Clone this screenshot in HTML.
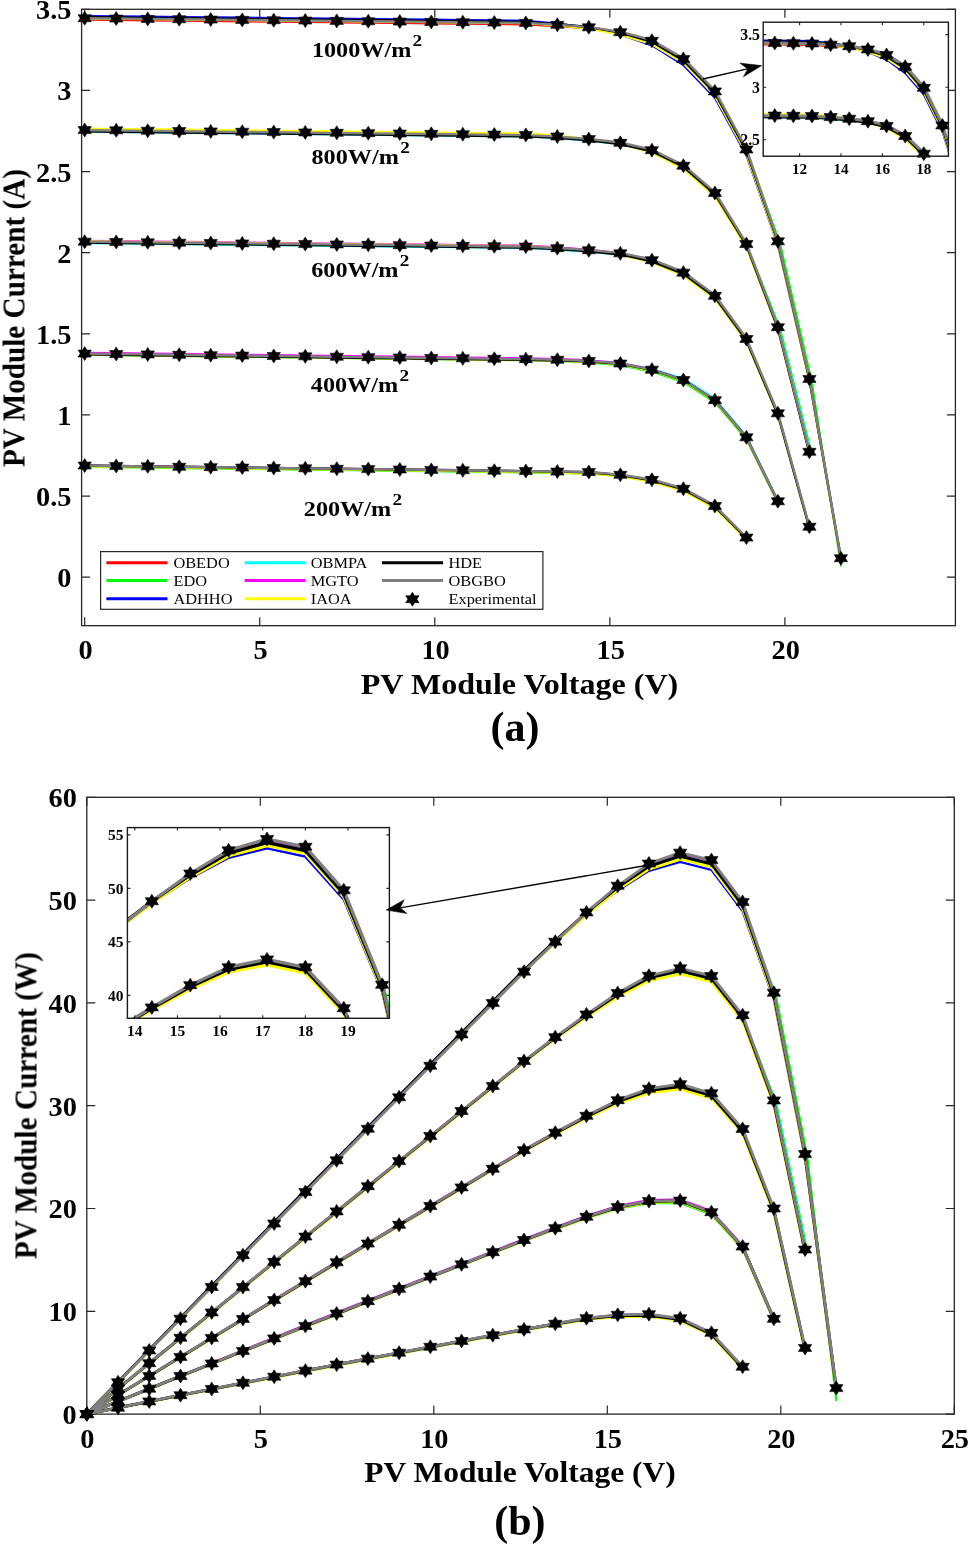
<!DOCTYPE html>
<html><head><meta charset="utf-8"><title>PV curves</title>
<style>
html,body{margin:0;padding:0;background:#fff;}
body{width:968px;height:1546px;overflow:hidden;font-family:"Liberation Serif",serif;}
svg{display:block;}
</style></head><body>
<svg width="968" height="1546" viewBox="0 0 968 1546" font-family="Liberation Serif, serif"><g opacity="0.999"><path d="M84.7,625.7v-8.5M84.7,9.3v8.5M259.75,625.7v-8.5M259.75,9.3v8.5M434.8,625.7v-8.5M434.8,9.3v8.5M609.85,625.7v-8.5M609.85,9.3v8.5M784.9,625.7v-8.5M784.9,9.3v8.5M81.6,577.2h8.5M955.4,577.2h-8.5M81.6,496.07h8.5M955.4,496.07h-8.5M81.6,414.94h8.5M955.4,414.94h-8.5M81.6,333.81h8.5M955.4,333.81h-8.5M81.6,252.68h8.5M955.4,252.68h-8.5M81.6,171.55h8.5M955.4,171.55h-8.5M81.6,90.42h8.5M955.4,90.42h-8.5M81.6,9.29h8.5M955.4,9.29h-8.5" stroke="#262626" stroke-width="1.2" fill="none"/>
<rect x="81.6" y="9.3" width="873.8" height="616.4" fill="none" stroke="#262626" stroke-width="1.3"/>
<g fill="none" stroke-linejoin="round" stroke-linecap="butt">
<clipPath id="ca"><rect x="81.6" y="9.3" width="873.8" height="616.4"/></clipPath>
<g clip-path="url(#ca)">
<path d="M84.7,18.71L116.21,19.05L147.72,19.39L179.23,19.72L210.74,20.06L242.25,20.39L273.75,20.73L305.26,21.07L336.77,21.4L368.28,21.74L399.79,22.07L431.3,22.41L462.81,22.74L494.32,23.08L525.83,23.42L557.34,25.55L588.84,28.39L620.35,33.75L651.86,42.83L683.37,61.35L714.88,93.89L747.2,151.85L780.2,243.27L811.71,380.43L840.92,566.52" stroke="#00ff00" stroke-width="1.6"/>
<path d="M84.7,130.81L116.21,131.16L147.72,131.51L179.23,131.86L210.74,132.21L242.25,132.56L273.75,132.91L305.26,133.26L336.77,133.62L368.28,133.97L399.79,134.32L431.3,134.67L462.81,135.02L494.32,135.37L525.83,135.72L557.34,137.37L588.84,140.1L620.35,144.01L651.86,151.48L683.37,167.18L714.88,194.47L747.2,245.53L780.2,328.47L811.71,452.93" stroke="#00ff00" stroke-width="1.6"/>
<path d="M84.7,242.45L116.21,242.8L147.72,243.15L179.23,243.5L210.74,243.85L242.25,244.2L273.75,244.55L305.26,244.9L336.77,245.25L368.28,245.6L399.79,245.95L431.3,246.3L462.81,246.65L494.32,247L525.83,247.35L557.34,249L588.84,251.25L620.35,254.51L651.86,261.49L683.37,274.1L714.88,297.34L746.39,340.46L777.9,414.63L809.41,527.89" stroke="#00ff00" stroke-width="1.6"/>
<path d="M84.7,355.01L116.21,355.4L147.72,355.79L179.23,356.19L210.74,356.58L242.25,356.98L273.75,357.37L305.26,357.77L336.77,358.16L368.28,358.55L399.79,358.95L431.3,359.34L462.81,359.74L494.32,360.13L525.83,360.53L557.34,361.26L588.84,362.6L620.35,365.45L651.86,371.85L683.37,382.41L714.88,402.57L746.39,439.67L777.9,503.39" stroke="#00ff00" stroke-width="1.6"/>
<path d="M84.7,467.17L116.21,467.56L147.72,467.95L179.23,468.35L210.74,468.74L242.25,469.14L273.75,469.53L305.26,469.93L336.77,470.32L368.28,470.71L399.79,471.11L431.3,471.5L462.81,471.9L494.32,472.29L525.83,472.69L557.34,473.16L588.84,473.63L620.35,476.36L651.86,481.37L683.37,490.27L714.88,507.47L746.39,539.12" stroke="#00ff00" stroke-width="1.6"/>
<path d="M84.7,20.01L116.21,20.35L147.72,20.69L179.23,21.02L210.74,21.36L242.25,21.69L273.75,22.03L305.26,22.37L336.77,22.7L368.28,23.04L399.79,23.37L431.3,23.71L462.81,24.04L494.32,24.38L525.83,24.72L557.34,26.59L588.84,28.87L620.35,33.53L651.86,41.94L683.37,59.98L714.88,92.39L746.39,150.54L777.9,242.54L809.41,380.32L840.92,559.7" stroke="#ff0000" stroke-width="1.4"/>
<path d="M84.7,130.31L116.21,130.66L147.72,131.01L179.23,131.36L210.74,131.71L242.25,132.06L273.75,132.41L305.26,132.76L336.77,133.12L368.28,133.47L399.79,133.82L431.3,134.17L462.81,134.52L494.32,134.87L525.83,135.22L557.34,136.82L588.84,139.46L620.35,143.24L651.86,150.59L683.37,166.2L714.88,193.47L746.39,244.57L777.9,327.6L809.41,452.17" stroke="#ff0000" stroke-width="1.4"/>
<path d="M84.7,241.95L116.21,242.3L147.72,242.65L179.23,243L210.74,243.35L242.25,243.7L273.75,244.05L305.26,244.4L336.77,244.75L368.28,245.1L399.79,245.45L431.3,245.8L462.81,246.15L494.32,246.5L525.83,246.85L557.34,248.46L588.84,250.6L620.35,253.74L651.86,260.6L683.37,273.13L714.88,296.34L746.39,339.49L777.9,413.76L809.41,527.14" stroke="#ff0000" stroke-width="1.4"/>
<path d="M84.7,353.61L116.21,354L147.72,354.39L179.23,354.79L210.74,355.18L242.25,355.58L273.75,355.97L305.26,356.37L336.77,356.76L368.28,357.15L399.79,357.55L431.3,357.94L462.81,358.34L494.32,358.73L525.83,359.13L557.34,359.82L588.84,361.05L620.35,363.77L651.86,370.06L683.37,380.53L714.88,400.67L746.39,437.8L777.9,501.63" stroke="#ff0000" stroke-width="1.4"/>
<path d="M84.7,465.57L116.21,465.96L147.72,466.35L179.23,466.75L210.74,467.14L242.25,467.54L273.75,467.93L305.26,468.33L336.77,468.72L368.28,469.11L399.79,469.51L431.3,469.9L462.81,470.3L494.32,470.69L525.83,471.09L557.34,471.61L588.84,472.17L620.35,475.03L651.86,480.16L683.37,489.15L714.88,506.37L746.39,537.98" stroke="#ff0000" stroke-width="1.4"/>
<path d="M84.7,18.51L116.21,18.85L147.72,19.19L179.23,19.52L210.74,19.86L242.25,20.19L273.75,20.53L305.26,20.87L336.77,21.2L368.28,21.54L399.79,21.87L431.3,22.21L462.81,22.54L494.32,22.88L525.83,23.22L557.34,25.28L588.84,27.95L620.35,33.12L651.86,42.01L683.37,60.38L714.88,92.89L746.39,150.9L777.9,242.49L809.41,379.82L840.92,559" stroke="#00ffff" stroke-width="1.6"/>
<path d="M84.7,131.91L116.21,132.26L147.72,132.61L179.23,132.96L210.74,133.31L242.25,133.66L273.75,134.01L305.26,134.36L336.77,134.72L368.28,135.07L399.79,135.42L431.3,135.77L462.81,136.12L494.32,136.47L525.83,136.82L557.34,138.37L588.84,140.91L620.35,144.57L651.86,151.8L683.37,167.32L714.88,194.57L746.95,245.7L779.5,328.84L811.01,453.52" stroke="#00ffff" stroke-width="1.6"/>
<path d="M84.7,243.35L116.21,243.7L147.72,244.05L179.23,244.4L210.74,244.75L242.25,245.1L273.75,245.45L305.26,245.8L336.77,246.15L368.28,246.5L399.79,246.85L431.3,247.2L462.81,247.55L494.32,247.9L525.83,248.25L557.34,249.85L588.84,251.98L620.35,255.08L651.86,261.92L683.37,274.43L714.88,297.64L746.39,340.8L777.9,415.09L809.41,528.49" stroke="#00ffff" stroke-width="1.6"/>
<path d="M84.7,354.41L116.21,354.8L147.72,355.19L179.23,355.59L210.74,355.98L242.25,356.38L273.75,356.77L305.26,357.17L336.77,357.56L368.28,357.95L399.79,358.35L431.3,358.74L462.81,359.14L494.32,359.53L525.83,359.92L557.34,360.34L588.84,360.97L620.35,362.95L651.86,368.52L683.37,378.47L714.88,398.47L746.39,435.8L777.9,500.25" stroke="#00ffff" stroke-width="1.6"/>
<path d="M84.7,466.17L116.21,466.56L147.72,466.95L179.23,467.35L210.74,467.74L242.25,468.14L273.75,468.53L305.26,468.93L336.77,469.32L368.28,469.71L399.79,470.11L431.3,470.5L462.81,470.9L494.32,471.29L525.83,471.69L557.34,472.19L588.84,472.71L620.35,475.52L651.86,480.6L683.37,489.56L714.88,506.77L746.39,538.4" stroke="#00ffff" stroke-width="1.6"/>
<path d="M84.7,18.21L116.21,18.55L147.72,18.89L179.23,19.22L210.74,19.56L242.25,19.89L273.75,20.23L305.26,20.57L336.77,20.9L368.28,21.24L399.79,21.57L431.3,21.91L462.81,22.24L494.32,22.58L525.83,22.92L557.34,24.91L588.84,27.45L620.35,32.44L651.86,41.16L683.37,59.42L714.88,91.89L746.39,149.95L777.9,241.69L809.41,379.17L840.92,558.42" stroke="#ff00ff" stroke-width="1.5"/>
<path d="M84.7,130.01L116.21,130.36L147.72,130.71L179.23,131.06L210.74,131.41L242.25,131.76L273.75,132.11L305.26,132.46L336.77,132.82L368.28,133.17L399.79,133.52L431.3,133.87L462.81,134.22L494.32,134.57L525.83,134.92L557.34,136.56L588.84,139.27L620.35,143.16L651.86,150.6L683.37,166.28L714.88,193.57L746.39,244.64L777.9,327.59L809.41,452.08" stroke="#ff00ff" stroke-width="1.5"/>
<path d="M84.7,240.45L116.21,240.8L147.72,241.15L179.23,241.5L210.74,241.85L242.25,242.2L273.75,242.55L305.26,242.9L336.77,243.25L368.28,243.6L399.79,243.95L431.3,244.3L462.81,244.65L494.32,245L525.83,245.35L557.34,247.1L588.84,249.57L620.35,253.11L651.86,260.35L683.37,273.15L714.88,296.44L746.39,339.48L777.9,413.42L809.41,526.44" stroke="#ff00ff" stroke-width="1.5"/>
<path d="M84.7,352.41L116.21,352.8L147.72,353.19L179.23,353.59L210.74,353.98L242.25,354.38L273.75,354.77L305.26,355.17L336.77,355.56L368.28,355.95L399.79,356.35L431.3,356.74L462.81,357.14L494.32,357.53L525.83,357.93L557.34,358.63L588.84,359.88L620.35,362.63L651.86,368.94L683.37,379.43L714.88,399.57L746.39,436.69L777.9,500.5" stroke="#ff00ff" stroke-width="1.5"/>
<path d="M84.7,465.27L116.21,465.66L147.72,466.05L179.23,466.45L210.74,466.84L242.25,467.24L273.75,467.63L305.26,468.03L336.77,468.42L368.28,468.81L399.79,469.21L431.3,469.6L462.81,470L494.32,470.39L525.83,470.79L557.34,471.3L588.84,471.84L620.35,474.68L651.86,479.78L683.37,488.75L714.88,505.97L746.39,537.59" stroke="#ff00ff" stroke-width="1.5"/>
<path d="M84.7,15.81L116.21,16.15L147.72,16.49L179.23,16.82L210.74,17.16L242.25,17.49L273.75,17.83L305.26,18.17L336.77,18.5L368.28,18.84L399.79,19.17L431.3,19.51L462.81,19.84L494.32,20.18L525.83,20.53L557.34,23.33L588.84,27.6L620.35,34.76L651.86,45.56L683.37,65.3L714.88,98.19L746.39,155.68L777.9,245.61L809.41,381.15L840.92,559.5" stroke="#0000ff" stroke-width="1.8"/>
<path d="M84.7,130.51L116.21,130.86L147.72,131.21L179.23,131.56L210.74,131.91L242.25,132.26L273.75,132.61L305.26,132.96L336.77,133.32L368.28,133.67L399.79,134.02L431.3,134.37L462.81,134.72L494.32,135.07L525.83,135.42L557.34,137.07L588.84,139.8L620.35,143.71L651.86,151.18L683.37,166.88L714.88,194.17L746.39,245.23L777.9,328.17L809.41,452.63" stroke="#0000ff" stroke-width="1.8"/>
<path d="M84.7,242.15L116.21,242.5L147.72,242.85L179.23,243.2L210.74,243.55L242.25,243.9L273.75,244.25L305.26,244.6L336.77,244.95L368.28,245.3L399.79,245.65L431.3,246L462.81,246.35L494.32,246.7L525.83,247.05L557.34,248.7L588.84,250.95L620.35,254.21L651.86,261.19L683.37,273.8L714.88,297.04L746.39,340.16L777.9,414.33L809.41,527.59" stroke="#0000ff" stroke-width="1.8"/>
<path d="M84.7,354.11L116.21,354.5L147.72,354.89L179.23,355.29L210.74,355.68L242.25,356.08L273.75,356.47L305.26,356.87L336.77,357.26L368.28,357.65L399.79,358.05L431.3,358.44L462.81,358.84L494.32,359.23L525.83,359.63L557.34,360.27L588.84,361.41L620.35,364L651.86,370.17L683.37,380.55L714.88,400.67L746.39,437.83L777.9,501.76" stroke="#0000ff" stroke-width="1.8"/>
<path d="M84.7,466.07L116.21,466.46L147.72,466.85L179.23,467.25L210.74,467.64L242.25,468.04L273.75,468.43L305.26,468.83L336.77,469.22L368.28,469.61L399.79,470.01L431.3,470.4L462.81,470.8L494.32,471.19L525.83,471.59L557.34,472.1L588.84,472.64L620.35,475.48L651.86,480.58L683.37,489.55L714.88,506.77L746.39,538.39" stroke="#0000ff" stroke-width="1.8"/>
<path d="M84.7,18.41L116.21,18.75L147.72,19.09L179.23,19.42L210.74,19.76L242.25,20.09L273.75,20.43L305.26,20.77L336.77,21.1L368.28,21.44L399.79,21.77L431.3,22.11L462.81,22.44L494.32,22.78L525.83,23.12L557.34,25.45L588.84,28.7L620.35,34.59L651.86,44.17L683.37,63.05L714.88,95.69L746.39,153.51L777.9,244.5L809.41,381.18L840.92,560.06" stroke="#ffff00" stroke-width="2.3"/>
<path d="M84.7,128.71L116.21,129.06L147.72,129.41L179.23,129.76L210.74,130.11L242.25,130.46L273.75,130.81L305.26,131.16L336.77,131.52L368.28,131.87L399.79,132.22L431.3,132.57L462.81,132.92L494.32,133.27L525.83,133.62L557.34,135.64L588.84,139.18L620.35,144.08L651.86,152.51L683.37,168.88L714.88,196.37L746.39,247.17L777.9,329.27L809.41,452.84" stroke="#ffff00" stroke-width="2.3"/>
<path d="M84.7,241.35L116.21,241.7L147.72,242.05L179.23,242.4L210.74,242.75L242.25,243.1L273.75,243.45L305.26,243.8L336.77,244.15L368.28,244.5L399.79,244.85L431.3,245.2L462.81,245.55L494.32,245.9L525.83,246.26L557.34,248.14L588.84,250.91L620.35,254.82L651.86,262.42L683.37,275.48L714.88,298.84L746.39,341.79L777.9,415.41L809.41,528.1" stroke="#ffff00" stroke-width="2.3"/>
<path d="M84.7,354.61L116.21,355L147.72,355.39L179.23,355.79L210.74,356.18L242.25,356.58L273.75,356.97L305.26,357.37L336.77,357.76L368.28,358.15L399.79,358.55L431.3,358.94L462.81,359.34L494.32,359.73L525.83,360.13L557.34,360.75L588.84,361.85L620.35,364.4L651.86,370.51L683.37,380.86L714.88,400.97L746.39,438.15L777.9,502.12" stroke="#ffff00" stroke-width="2.3"/>
<path d="M84.7,466.37L116.21,466.76L147.72,467.15L179.23,467.55L210.74,467.94L242.25,468.34L273.75,468.73L305.26,469.13L336.77,469.52L368.28,469.91L399.79,470.31L431.3,470.7L462.81,471.1L494.32,471.49L525.83,471.89L557.34,472.52L588.84,473.32L620.35,476.48L651.86,481.89L683.37,491.09L714.88,508.37L746.39,539.9" stroke="#ffff00" stroke-width="2.3"/>
<path d="M84.7,17.21L116.21,17.55L147.72,17.89L179.23,18.22L210.74,18.56L242.25,18.89L273.75,19.23L305.26,19.57L336.77,19.9L368.28,20.24L399.79,20.57L431.3,20.91L462.81,21.24L494.32,21.58L525.83,21.92L557.34,24.11L588.84,27.06L620.35,32.58L651.86,41.8L683.37,60.42L714.88,92.99L746.39,150.91L777.9,242.21L809.41,379.23L840.92,558.26" stroke="#000000" stroke-width="2.4"/>
<path d="M84.7,131.41L116.21,131.76L147.72,132.11L179.23,132.46L210.74,132.81L242.25,133.16L273.75,133.51L305.26,133.86L336.77,134.22L368.28,134.57L399.79,134.92L431.3,135.27L462.81,135.62L494.32,135.97L525.83,136.32L557.34,137.86L588.84,140.38L620.35,144.01L651.86,151.22L683.37,166.73L714.88,193.97L746.39,245.11L777.9,328.27L809.41,452.97" stroke="#000000" stroke-width="2.4"/>
<path d="M84.7,242.65L116.21,243L147.72,243.35L179.23,243.7L210.74,244.05L242.25,244.4L273.75,244.75L305.26,245.1L336.77,245.45L368.28,245.8L399.79,246.15L431.3,246.5L462.81,246.85L494.32,247.2L525.83,247.55L557.34,249.16L588.84,251.3L620.35,254.44L651.86,261.3L683.37,273.83L714.88,297.04L746.39,340.19L777.9,414.46L809.41,527.84" stroke="#000000" stroke-width="2.4"/>
<path d="M84.7,354.41L116.21,354.8L147.72,355.19L179.23,355.59L210.74,355.98L242.25,356.38L273.75,356.77L305.26,357.17L336.77,357.56L368.28,357.95L399.79,358.35L431.3,358.74L462.81,359.14L494.32,359.53L525.83,359.92L557.34,360.5L588.84,361.47L620.35,363.87L651.86,369.84L683.37,380.09L714.88,400.17L746.39,437.38L777.9,501.48" stroke="#000000" stroke-width="2.4"/>
<path d="M84.7,465.57L116.21,465.96L147.72,466.35L179.23,466.75L210.74,467.14L242.25,467.54L273.75,467.93L305.26,468.33L336.77,468.72L368.28,469.11L399.79,469.51L431.3,469.9L462.81,470.3L494.32,470.69L525.83,471.09L557.34,471.62L588.84,472.23L620.35,475.14L651.86,480.31L683.37,489.34L714.88,506.57L746.39,538.17" stroke="#000000" stroke-width="2.4"/>
<path d="M84.7,18.21L116.21,18.55L147.72,18.89L179.23,19.22L210.74,19.56L242.25,19.89L273.75,20.23L305.26,20.57L336.77,20.9L368.28,21.24L399.79,21.57L431.3,21.91L462.81,22.24L494.32,22.58L525.83,22.92L557.34,24.79L588.84,27.07L620.35,31.73L651.86,40.14L683.37,58.18L714.88,90.59L746.39,148.74L777.9,240.74L809.41,378.52L840.92,557.9" stroke="#808080" stroke-width="2.4"/>
<path d="M84.7,130.21L116.21,130.56L147.72,130.91L179.23,131.26L210.74,131.61L242.25,131.96L273.75,132.31L305.26,132.66L336.77,133.02L368.28,133.37L399.79,133.72L431.3,134.07L462.81,134.42L494.32,134.77L525.83,135.12L557.34,136.61L588.84,139L620.35,142.49L651.86,149.55L683.37,164.96L714.88,192.17L746.39,243.35L777.9,326.63L809.41,451.47" stroke="#808080" stroke-width="2.4"/>
<path d="M84.7,241.65L116.21,242L147.72,242.35L179.23,242.7L210.74,243.05L242.25,243.4L273.75,243.75L305.26,244.1L336.77,244.45L368.28,244.8L399.79,245.15L431.3,245.5L462.81,245.85L494.32,246.2L525.83,246.55L557.34,248.06L588.84,250.01L620.35,252.9L651.86,259.52L683.37,271.88L714.88,295.04L746.39,338.25L777.9,412.74L809.41,526.33" stroke="#808080" stroke-width="2.4"/>
<path d="M84.7,353.61L116.21,354L147.72,354.39L179.23,354.79L210.74,355.18L242.25,355.58L273.75,355.97L305.26,356.37L336.77,356.76L368.28,357.15L399.79,357.55L431.3,357.94L462.81,358.34L494.32,358.73L525.83,359.13L557.34,359.77L588.84,360.91L620.35,363.5L651.86,369.67L683.37,380.05L714.88,400.17L746.39,437.33L777.9,501.26" stroke="#808080" stroke-width="2.4"/>
<path d="M84.7,465.57L116.21,465.96L147.72,466.35L179.23,466.75L210.74,467.14L242.25,467.54L273.75,467.93L305.26,468.33L336.77,468.72L368.28,469.11L399.79,469.51L431.3,469.9L462.81,470.3L494.32,470.69L525.83,471.08L557.34,471.53L588.84,471.94L620.35,474.6L651.86,479.53L683.37,488.39L714.88,505.57L746.39,537.23" stroke="#808080" stroke-width="2.4"/>
</g>
</g>
<path d="M84.7,11.21L82.48,14.71L78.03,14.71L80.25,18.21L78.03,21.71L82.48,21.71L84.7,25.21L86.92,21.71L91.37,21.71L89.15,18.21L91.37,14.71L86.92,14.71ZM116.21,11.55L113.99,15.05L109.54,15.05L111.76,18.55L109.54,22.05L113.99,22.05L116.21,25.55L118.43,22.05L122.88,22.05L120.65,18.55L122.88,15.05L118.43,15.05ZM147.72,11.89L145.5,15.39L141.05,15.39L143.27,18.89L141.05,22.39L145.5,22.39L147.72,25.89L149.94,22.39L154.39,22.39L152.16,18.89L154.39,15.39L149.94,15.39ZM179.23,12.22L177,15.72L172.56,15.72L174.78,19.22L172.56,22.72L177,22.72L179.23,26.22L181.45,22.72L185.9,22.72L183.67,19.22L185.9,15.72L181.45,15.72ZM210.74,12.56L208.51,16.06L204.07,16.06L206.29,19.56L204.07,23.06L208.51,23.06L210.74,26.56L212.96,23.06L217.4,23.06L215.18,19.56L217.4,16.06L212.96,16.06ZM242.25,12.89L240.02,16.39L235.58,16.39L237.8,19.89L235.58,23.39L240.02,23.39L242.25,26.89L244.47,23.39L248.91,23.39L246.69,19.89L248.91,16.39L244.47,16.39ZM273.75,13.23L271.53,16.73L267.09,16.73L269.31,20.23L267.09,23.73L271.53,23.73L273.75,27.23L275.98,23.73L280.42,23.73L278.2,20.23L280.42,16.73L275.98,16.73ZM305.26,13.57L303.04,17.07L298.59,17.07L300.82,20.57L298.59,24.07L303.04,24.07L305.26,27.57L307.49,24.07L311.93,24.07L309.71,20.57L311.93,17.07L307.49,17.07ZM336.77,13.9L334.55,17.4L330.1,17.4L332.33,20.9L330.1,24.4L334.55,24.4L336.77,27.9L338.99,24.4L343.44,24.4L341.22,20.9L343.44,17.4L338.99,17.4ZM368.28,14.24L366.06,17.74L361.61,17.74L363.84,21.24L361.61,24.74L366.06,24.74L368.28,28.24L370.5,24.74L374.95,24.74L372.73,21.24L374.95,17.74L370.5,17.74ZM399.79,14.57L397.57,18.07L393.12,18.07L395.34,21.57L393.12,25.07L397.57,25.07L399.79,28.57L402.01,25.07L406.46,25.07L404.24,21.57L406.46,18.07L402.01,18.07ZM431.3,14.91L429.08,18.41L424.63,18.41L426.85,21.91L424.63,25.41L429.08,25.41L431.3,28.91L433.52,25.41L437.97,25.41L435.74,21.91L437.97,18.41L433.52,18.41ZM462.81,15.24L460.59,18.74L456.14,18.74L458.36,22.24L456.14,25.74L460.59,25.74L462.81,29.24L465.03,25.74L469.48,25.74L467.25,22.24L469.48,18.74L465.03,18.74ZM494.32,15.58L492.09,19.08L487.65,19.08L489.87,22.58L487.65,26.08L492.09,26.08L494.32,29.58L496.54,26.08L500.99,26.08L498.76,22.58L500.99,19.08L496.54,19.08ZM525.83,15.92L523.6,19.42L519.16,19.42L521.38,22.92L519.16,26.42L523.6,26.42L525.83,29.92L528.05,26.42L532.49,26.42L530.27,22.92L532.49,19.42L528.05,19.42ZM557.34,17.87L555.11,21.37L550.67,21.37L552.89,24.87L550.67,28.37L555.11,28.37L557.34,31.87L559.56,28.37L564,28.37L561.78,24.87L564,21.37L559.56,21.37ZM588.84,20.3L586.62,23.8L582.18,23.8L584.4,27.3L582.18,30.8L586.62,30.8L588.84,34.3L591.07,30.8L595.51,30.8L593.29,27.3L595.51,23.8L591.07,23.8ZM620.35,25.17L618.13,28.67L613.68,28.67L615.91,32.17L613.68,35.67L618.13,35.67L620.35,39.17L622.58,35.67L627.02,35.67L624.8,32.17L627.02,28.67L622.58,28.67ZM651.86,33.77L649.64,37.27L645.19,37.27L647.42,40.77L645.19,44.27L649.64,44.27L651.86,47.77L654.08,44.27L658.53,44.27L656.31,40.77L658.53,37.27L654.08,37.27ZM683.37,51.94L681.15,55.44L676.7,55.44L678.93,58.94L676.7,62.44L681.15,62.44L683.37,65.94L685.59,62.44L690.04,62.44L687.82,58.94L690.04,55.44L685.59,55.44ZM714.88,84.39L712.66,87.89L708.21,87.89L710.43,91.39L708.21,94.89L712.66,94.89L714.88,98.39L717.1,94.89L721.55,94.89L719.33,91.39L721.55,87.89L717.1,87.89ZM746.39,142.48L744.17,145.98L739.72,145.98L741.94,149.48L739.72,152.98L744.17,152.98L746.39,156.48L748.61,152.98L753.06,152.98L750.83,149.48L753.06,145.98L748.61,145.98ZM777.9,234.32L775.68,237.82L771.23,237.82L773.45,241.32L771.23,244.82L775.68,244.82L777.9,248.32L780.12,244.82L784.57,244.82L782.34,241.32L784.57,237.82L780.12,237.82ZM809.41,371.92L807.18,375.42L802.74,375.42L804.96,378.92L802.74,382.42L807.18,382.42L809.41,385.92L811.63,382.42L816.08,382.42L813.85,378.92L816.08,375.42L811.63,375.42ZM840.92,551.22L838.69,554.72L834.25,554.72L836.47,558.22L834.25,561.72L838.69,561.72L840.92,565.22L843.14,561.72L847.58,561.72L845.36,558.22L847.58,554.72L843.14,554.72ZM84.7,123.01L82.48,126.51L78.03,126.51L80.25,130.01L78.03,133.51L82.48,133.51L84.7,137.01L86.92,133.51L91.37,133.51L89.15,130.01L91.37,126.51L86.92,126.51ZM116.21,123.36L113.99,126.86L109.54,126.86L111.76,130.36L109.54,133.86L113.99,133.86L116.21,137.36L118.43,133.86L122.88,133.86L120.65,130.36L122.88,126.86L118.43,126.86ZM147.72,123.71L145.5,127.21L141.05,127.21L143.27,130.71L141.05,134.21L145.5,134.21L147.72,137.71L149.94,134.21L154.39,134.21L152.16,130.71L154.39,127.21L149.94,127.21ZM179.23,124.06L177,127.56L172.56,127.56L174.78,131.06L172.56,134.56L177,134.56L179.23,138.06L181.45,134.56L185.9,134.56L183.67,131.06L185.9,127.56L181.45,127.56ZM210.74,124.41L208.51,127.91L204.07,127.91L206.29,131.41L204.07,134.91L208.51,134.91L210.74,138.41L212.96,134.91L217.4,134.91L215.18,131.41L217.4,127.91L212.96,127.91ZM242.25,124.76L240.02,128.26L235.58,128.26L237.8,131.76L235.58,135.26L240.02,135.26L242.25,138.76L244.47,135.26L248.91,135.26L246.69,131.76L248.91,128.26L244.47,128.26ZM273.75,125.11L271.53,128.61L267.09,128.61L269.31,132.11L267.09,135.61L271.53,135.61L273.75,139.11L275.98,135.61L280.42,135.61L278.2,132.11L280.42,128.61L275.98,128.61ZM305.26,125.46L303.04,128.96L298.59,128.96L300.82,132.46L298.59,135.96L303.04,135.96L305.26,139.46L307.49,135.96L311.93,135.96L309.71,132.46L311.93,128.96L307.49,128.96ZM336.77,125.82L334.55,129.32L330.1,129.32L332.33,132.82L330.1,136.32L334.55,136.32L336.77,139.82L338.99,136.32L343.44,136.32L341.22,132.82L343.44,129.32L338.99,129.32ZM368.28,126.17L366.06,129.67L361.61,129.67L363.84,133.17L361.61,136.67L366.06,136.67L368.28,140.17L370.5,136.67L374.95,136.67L372.73,133.17L374.95,129.67L370.5,129.67ZM399.79,126.52L397.57,130.02L393.12,130.02L395.34,133.52L393.12,137.02L397.57,137.02L399.79,140.52L402.01,137.02L406.46,137.02L404.24,133.52L406.46,130.02L402.01,130.02ZM431.3,126.87L429.08,130.37L424.63,130.37L426.85,133.87L424.63,137.37L429.08,137.37L431.3,140.87L433.52,137.37L437.97,137.37L435.74,133.87L437.97,130.37L433.52,130.37ZM462.81,127.22L460.59,130.72L456.14,130.72L458.36,134.22L456.14,137.72L460.59,137.72L462.81,141.22L465.03,137.72L469.48,137.72L467.25,134.22L469.48,130.72L465.03,130.72ZM494.32,127.57L492.09,131.07L487.65,131.07L489.87,134.57L487.65,138.07L492.09,138.07L494.32,141.57L496.54,138.07L500.99,138.07L498.76,134.57L500.99,131.07L496.54,131.07ZM525.83,127.92L523.6,131.42L519.16,131.42L521.38,134.92L519.16,138.42L523.6,138.42L525.83,141.92L528.05,138.42L532.49,138.42L530.27,134.92L532.49,131.42L528.05,131.42ZM557.34,129.5L555.11,133L550.67,133L552.89,136.5L550.67,140L555.11,140L557.34,143.5L559.56,140L564,140L561.78,136.5L564,133L559.56,133ZM588.84,132.1L586.62,135.6L582.18,135.6L584.4,139.1L582.18,142.6L586.62,142.6L588.84,146.1L591.07,142.6L595.51,142.6L593.29,139.1L595.51,135.6L591.07,135.6ZM620.35,135.83L618.13,139.33L613.68,139.33L615.91,142.83L613.68,146.33L618.13,146.33L620.35,149.83L622.58,146.33L627.02,146.33L624.8,142.83L627.02,139.33L622.58,139.33ZM651.86,143.13L649.64,146.63L645.19,146.63L647.42,150.13L645.19,153.63L649.64,153.63L651.86,157.13L654.08,153.63L658.53,153.63L656.31,150.13L658.53,146.63L654.08,146.63ZM683.37,158.71L681.15,162.21L676.7,162.21L678.93,165.71L676.7,169.21L681.15,169.21L683.37,172.71L685.59,169.21L690.04,169.21L687.82,165.71L690.04,162.21L685.59,162.21ZM714.88,185.97L712.66,189.47L708.21,189.47L710.43,192.97L708.21,196.47L712.66,196.47L714.88,199.97L717.1,196.47L721.55,196.47L719.33,192.97L721.55,189.47L717.1,189.47ZM746.39,237.08L744.17,240.58L739.72,240.58L741.94,244.08L739.72,247.58L744.17,247.58L746.39,251.08L748.61,247.58L753.06,247.58L750.83,244.08L753.06,240.58L748.61,240.58ZM777.9,320.16L775.68,323.66L771.23,323.66L773.45,327.16L771.23,330.66L775.68,330.66L777.9,334.16L780.12,330.66L784.57,330.66L782.34,327.16L784.57,323.66L780.12,323.66ZM809.41,444.77L807.18,448.27L802.74,448.27L804.96,451.77L802.74,455.27L807.18,455.27L809.41,458.77L811.63,455.27L816.08,455.27L813.85,451.77L816.08,448.27L811.63,448.27ZM84.7,234.65L82.48,238.15L78.03,238.15L80.25,241.65L78.03,245.15L82.48,245.15L84.7,248.65L86.92,245.15L91.37,245.15L89.15,241.65L91.37,238.15L86.92,238.15ZM116.21,235L113.99,238.5L109.54,238.5L111.76,242L109.54,245.5L113.99,245.5L116.21,249L118.43,245.5L122.88,245.5L120.65,242L122.88,238.5L118.43,238.5ZM147.72,235.35L145.5,238.85L141.05,238.85L143.27,242.35L141.05,245.85L145.5,245.85L147.72,249.35L149.94,245.85L154.39,245.85L152.16,242.35L154.39,238.85L149.94,238.85ZM179.23,235.7L177,239.2L172.56,239.2L174.78,242.7L172.56,246.2L177,246.2L179.23,249.7L181.45,246.2L185.9,246.2L183.67,242.7L185.9,239.2L181.45,239.2ZM210.74,236.05L208.51,239.55L204.07,239.55L206.29,243.05L204.07,246.55L208.51,246.55L210.74,250.05L212.96,246.55L217.4,246.55L215.18,243.05L217.4,239.55L212.96,239.55ZM242.25,236.4L240.02,239.9L235.58,239.9L237.8,243.4L235.58,246.9L240.02,246.9L242.25,250.4L244.47,246.9L248.91,246.9L246.69,243.4L248.91,239.9L244.47,239.9ZM273.75,236.75L271.53,240.25L267.09,240.25L269.31,243.75L267.09,247.25L271.53,247.25L273.75,250.75L275.98,247.25L280.42,247.25L278.2,243.75L280.42,240.25L275.98,240.25ZM305.26,237.1L303.04,240.6L298.59,240.6L300.82,244.1L298.59,247.6L303.04,247.6L305.26,251.1L307.49,247.6L311.93,247.6L309.71,244.1L311.93,240.6L307.49,240.6ZM336.77,237.45L334.55,240.95L330.1,240.95L332.33,244.45L330.1,247.95L334.55,247.95L336.77,251.45L338.99,247.95L343.44,247.95L341.22,244.45L343.44,240.95L338.99,240.95ZM368.28,237.8L366.06,241.3L361.61,241.3L363.84,244.8L361.61,248.3L366.06,248.3L368.28,251.8L370.5,248.3L374.95,248.3L372.73,244.8L374.95,241.3L370.5,241.3ZM399.79,238.15L397.57,241.65L393.12,241.65L395.34,245.15L393.12,248.65L397.57,248.65L399.79,252.15L402.01,248.65L406.46,248.65L404.24,245.15L406.46,241.65L402.01,241.65ZM431.3,238.5L429.08,242L424.63,242L426.85,245.5L424.63,249L429.08,249L431.3,252.5L433.52,249L437.97,249L435.74,245.5L437.97,242L433.52,242ZM462.81,238.85L460.59,242.35L456.14,242.35L458.36,245.85L456.14,249.35L460.59,249.35L462.81,252.85L465.03,249.35L469.48,249.35L467.25,245.85L469.48,242.35L465.03,242.35ZM494.32,239.2L492.09,242.7L487.65,242.7L489.87,246.2L487.65,249.7L492.09,249.7L494.32,253.2L496.54,249.7L500.99,249.7L498.76,246.2L500.99,242.7L496.54,242.7ZM525.83,239.55L523.6,243.05L519.16,243.05L521.38,246.55L519.16,250.05L523.6,250.05L525.83,253.55L528.05,250.05L532.49,250.05L530.27,246.55L532.49,243.05L528.05,243.05ZM557.34,241.14L555.11,244.64L550.67,244.64L552.89,248.14L550.67,251.64L555.11,251.64L557.34,255.14L559.56,251.64L564,251.64L561.78,248.14L564,244.64L559.56,244.64ZM588.84,243.25L586.62,246.75L582.18,246.75L584.4,250.25L582.18,253.75L586.62,253.75L588.84,257.25L591.07,253.75L595.51,253.75L593.29,250.25L595.51,246.75L591.07,246.75ZM620.35,246.33L618.13,249.83L613.68,249.83L615.91,253.33L613.68,256.83L618.13,256.83L620.35,260.33L622.58,256.83L627.02,256.83L624.8,253.33L627.02,249.83L622.58,249.83ZM651.86,253.14L649.64,256.64L645.19,256.64L647.42,260.14L645.19,263.64L649.64,263.64L651.86,267.14L654.08,263.64L658.53,263.64L656.31,260.14L658.53,256.64L654.08,256.64ZM683.37,265.64L681.15,269.14L676.7,269.14L678.93,272.64L676.7,276.14L681.15,276.14L683.37,279.64L685.59,276.14L690.04,276.14L687.82,272.64L690.04,269.14L685.59,269.14ZM714.88,288.84L712.66,292.34L708.21,292.34L710.43,295.84L708.21,299.34L712.66,299.34L714.88,302.84L717.1,299.34L721.55,299.34L719.33,295.84L721.55,292.34L717.1,292.34ZM746.39,332L744.17,335.5L739.72,335.5L741.94,339L739.72,342.5L744.17,342.5L746.39,346L748.61,342.5L753.06,342.5L750.83,339L753.06,335.5L748.61,335.5ZM777.9,406.32L775.68,409.82L771.23,409.82L773.45,413.32L771.23,416.82L775.68,416.82L777.9,420.32L780.12,416.82L784.57,416.82L782.34,413.32L784.57,409.82L780.12,409.82ZM809.41,519.74L807.18,523.24L802.74,523.24L804.96,526.74L802.74,530.24L807.18,530.24L809.41,533.74L811.63,530.24L816.08,530.24L813.85,526.74L816.08,523.24L811.63,523.24ZM84.7,346.61L82.48,350.11L78.03,350.11L80.25,353.61L78.03,357.11L82.48,357.11L84.7,360.61L86.92,357.11L91.37,357.11L89.15,353.61L91.37,350.11L86.92,350.11ZM116.21,347L113.99,350.5L109.54,350.5L111.76,354L109.54,357.5L113.99,357.5L116.21,361L118.43,357.5L122.88,357.5L120.65,354L122.88,350.5L118.43,350.5ZM147.72,347.39L145.5,350.89L141.05,350.89L143.27,354.39L141.05,357.89L145.5,357.89L147.72,361.39L149.94,357.89L154.39,357.89L152.16,354.39L154.39,350.89L149.94,350.89ZM179.23,347.79L177,351.29L172.56,351.29L174.78,354.79L172.56,358.29L177,358.29L179.23,361.79L181.45,358.29L185.9,358.29L183.67,354.79L185.9,351.29L181.45,351.29ZM210.74,348.18L208.51,351.68L204.07,351.68L206.29,355.18L204.07,358.68L208.51,358.68L210.74,362.18L212.96,358.68L217.4,358.68L215.18,355.18L217.4,351.68L212.96,351.68ZM242.25,348.58L240.02,352.08L235.58,352.08L237.8,355.58L235.58,359.08L240.02,359.08L242.25,362.58L244.47,359.08L248.91,359.08L246.69,355.58L248.91,352.08L244.47,352.08ZM273.75,348.97L271.53,352.47L267.09,352.47L269.31,355.97L267.09,359.47L271.53,359.47L273.75,362.97L275.98,359.47L280.42,359.47L278.2,355.97L280.42,352.47L275.98,352.47ZM305.26,349.37L303.04,352.87L298.59,352.87L300.82,356.37L298.59,359.87L303.04,359.87L305.26,363.37L307.49,359.87L311.93,359.87L309.71,356.37L311.93,352.87L307.49,352.87ZM336.77,349.76L334.55,353.26L330.1,353.26L332.33,356.76L330.1,360.26L334.55,360.26L336.77,363.76L338.99,360.26L343.44,360.26L341.22,356.76L343.44,353.26L338.99,353.26ZM368.28,350.15L366.06,353.65L361.61,353.65L363.84,357.15L361.61,360.65L366.06,360.65L368.28,364.15L370.5,360.65L374.95,360.65L372.73,357.15L374.95,353.65L370.5,353.65ZM399.79,350.55L397.57,354.05L393.12,354.05L395.34,357.55L393.12,361.05L397.57,361.05L399.79,364.55L402.01,361.05L406.46,361.05L404.24,357.55L406.46,354.05L402.01,354.05ZM431.3,350.94L429.08,354.44L424.63,354.44L426.85,357.94L424.63,361.44L429.08,361.44L431.3,364.94L433.52,361.44L437.97,361.44L435.74,357.94L437.97,354.44L433.52,354.44ZM462.81,351.34L460.59,354.84L456.14,354.84L458.36,358.34L456.14,361.84L460.59,361.84L462.81,365.34L465.03,361.84L469.48,361.84L467.25,358.34L469.48,354.84L465.03,354.84ZM494.32,351.73L492.09,355.23L487.65,355.23L489.87,358.73L487.65,362.23L492.09,362.23L494.32,365.73L496.54,362.23L500.99,362.23L498.76,358.73L500.99,355.23L496.54,355.23ZM525.83,352.13L523.6,355.63L519.16,355.63L521.38,359.13L519.16,362.63L523.6,362.63L525.83,366.13L528.05,362.63L532.49,362.63L530.27,359.13L532.49,355.63L528.05,355.63ZM557.34,352.77L555.11,356.27L550.67,356.27L552.89,359.77L550.67,363.27L555.11,363.27L557.34,366.77L559.56,363.27L564,363.27L561.78,359.77L564,356.27L559.56,356.27ZM588.84,353.91L586.62,357.41L582.18,357.41L584.4,360.91L582.18,364.41L586.62,364.41L588.84,367.91L591.07,364.41L595.51,364.41L593.29,360.91L595.51,357.41L591.07,357.41ZM620.35,356.5L618.13,360L613.68,360L615.91,363.5L613.68,367L618.13,367L620.35,370.5L622.58,367L627.02,367L624.8,363.5L627.02,360L622.58,360ZM651.86,362.67L649.64,366.17L645.19,366.17L647.42,369.67L645.19,373.17L649.64,373.17L651.86,376.67L654.08,373.17L658.53,373.17L656.31,369.67L658.53,366.17L654.08,366.17ZM683.37,373.05L681.15,376.55L676.7,376.55L678.93,380.05L676.7,383.55L681.15,383.55L683.37,387.05L685.59,383.55L690.04,383.55L687.82,380.05L690.04,376.55L685.59,376.55ZM714.88,393.17L712.66,396.67L708.21,396.67L710.43,400.17L708.21,403.67L712.66,403.67L714.88,407.17L717.1,403.67L721.55,403.67L719.33,400.17L721.55,396.67L717.1,396.67ZM746.39,430.33L744.17,433.83L739.72,433.83L741.94,437.33L739.72,440.83L744.17,440.83L746.39,444.33L748.61,440.83L753.06,440.83L750.83,437.33L753.06,433.83L748.61,433.83ZM777.9,494.26L775.68,497.76L771.23,497.76L773.45,501.26L771.23,504.76L775.68,504.76L777.9,508.26L780.12,504.76L784.57,504.76L782.34,501.26L784.57,497.76L780.12,497.76ZM84.7,458.57L82.48,462.07L78.03,462.07L80.25,465.57L78.03,469.07L82.48,469.07L84.7,472.57L86.92,469.07L91.37,469.07L89.15,465.57L91.37,462.07L86.92,462.07ZM116.21,458.96L113.99,462.46L109.54,462.46L111.76,465.96L109.54,469.46L113.99,469.46L116.21,472.96L118.43,469.46L122.88,469.46L120.65,465.96L122.88,462.46L118.43,462.46ZM147.72,459.35L145.5,462.85L141.05,462.85L143.27,466.35L141.05,469.85L145.5,469.85L147.72,473.35L149.94,469.85L154.39,469.85L152.16,466.35L154.39,462.85L149.94,462.85ZM179.23,459.75L177,463.25L172.56,463.25L174.78,466.75L172.56,470.25L177,470.25L179.23,473.75L181.45,470.25L185.9,470.25L183.67,466.75L185.9,463.25L181.45,463.25ZM210.74,460.14L208.51,463.64L204.07,463.64L206.29,467.14L204.07,470.64L208.51,470.64L210.74,474.14L212.96,470.64L217.4,470.64L215.18,467.14L217.4,463.64L212.96,463.64ZM242.25,460.54L240.02,464.04L235.58,464.04L237.8,467.54L235.58,471.04L240.02,471.04L242.25,474.54L244.47,471.04L248.91,471.04L246.69,467.54L248.91,464.04L244.47,464.04ZM273.75,460.93L271.53,464.43L267.09,464.43L269.31,467.93L267.09,471.43L271.53,471.43L273.75,474.93L275.98,471.43L280.42,471.43L278.2,467.93L280.42,464.43L275.98,464.43ZM305.26,461.33L303.04,464.83L298.59,464.83L300.82,468.33L298.59,471.83L303.04,471.83L305.26,475.33L307.49,471.83L311.93,471.83L309.71,468.33L311.93,464.83L307.49,464.83ZM336.77,461.72L334.55,465.22L330.1,465.22L332.33,468.72L330.1,472.22L334.55,472.22L336.77,475.72L338.99,472.22L343.44,472.22L341.22,468.72L343.44,465.22L338.99,465.22ZM368.28,462.11L366.06,465.61L361.61,465.61L363.84,469.11L361.61,472.61L366.06,472.61L368.28,476.11L370.5,472.61L374.95,472.61L372.73,469.11L374.95,465.61L370.5,465.61ZM399.79,462.51L397.57,466.01L393.12,466.01L395.34,469.51L393.12,473.01L397.57,473.01L399.79,476.51L402.01,473.01L406.46,473.01L404.24,469.51L406.46,466.01L402.01,466.01ZM431.3,462.9L429.08,466.4L424.63,466.4L426.85,469.9L424.63,473.4L429.08,473.4L431.3,476.9L433.52,473.4L437.97,473.4L435.74,469.9L437.97,466.4L433.52,466.4ZM462.81,463.3L460.59,466.8L456.14,466.8L458.36,470.3L456.14,473.8L460.59,473.8L462.81,477.3L465.03,473.8L469.48,473.8L467.25,470.3L469.48,466.8L465.03,466.8ZM494.32,463.69L492.09,467.19L487.65,467.19L489.87,470.69L487.65,474.19L492.09,474.19L494.32,477.69L496.54,474.19L500.99,474.19L498.76,470.69L500.99,467.19L496.54,467.19ZM525.83,464.09L523.6,467.59L519.16,467.59L521.38,471.09L519.16,474.59L523.6,474.59L525.83,478.09L528.05,474.59L532.49,474.59L530.27,471.09L532.49,467.59L528.05,467.59ZM557.34,464.57L555.11,468.07L550.67,468.07L552.89,471.57L550.67,475.07L555.11,475.07L557.34,478.57L559.56,475.07L564,475.07L561.78,471.57L564,468.07L559.56,468.07ZM588.84,465.06L586.62,468.56L582.18,468.56L584.4,472.06L582.18,475.56L586.62,475.56L588.84,479.06L591.07,475.56L595.51,475.56L593.29,472.06L595.51,468.56L591.07,468.56ZM620.35,467.81L618.13,471.31L613.68,471.31L615.91,474.81L613.68,478.31L618.13,478.31L620.35,481.81L622.58,478.31L627.02,478.31L624.8,474.81L627.02,471.31L622.58,471.31ZM651.86,472.84L649.64,476.34L645.19,476.34L647.42,479.84L645.19,483.34L649.64,483.34L651.86,486.84L654.08,483.34L658.53,483.34L656.31,479.84L658.53,476.34L654.08,476.34ZM683.37,481.77L681.15,485.27L676.7,485.27L678.93,488.77L676.7,492.27L681.15,492.27L683.37,495.77L685.59,492.27L690.04,492.27L687.82,488.77L690.04,485.27L685.59,485.27ZM714.88,498.97L712.66,502.47L708.21,502.47L710.43,505.97L708.21,509.47L712.66,509.47L714.88,512.97L717.1,509.47L721.55,509.47L719.33,505.97L721.55,502.47L717.1,502.47ZM746.39,530.61L744.17,534.11L739.72,534.11L741.94,537.61L739.72,541.11L744.17,541.11L746.39,544.61L748.61,541.11L753.06,541.11L750.83,537.61L753.06,534.11L748.61,534.11Z" fill="#000" stroke="#000" stroke-width="0.6"/>
<text transform="translate(71.5,587.2) scale(1.05,1)" font-size="27" font-weight="bold" text-anchor="end" >0</text>
<text transform="translate(71.5,506.07) scale(1.05,1)" font-size="27" font-weight="bold" text-anchor="end" >0.5</text>
<text transform="translate(71.5,424.94) scale(1.05,1)" font-size="27" font-weight="bold" text-anchor="end" >1</text>
<text transform="translate(71.5,343.81) scale(1.05,1)" font-size="27" font-weight="bold" text-anchor="end" >1.5</text>
<text transform="translate(71.5,262.68) scale(1.05,1)" font-size="27" font-weight="bold" text-anchor="end" >2</text>
<text transform="translate(71.5,181.55) scale(1.05,1)" font-size="27" font-weight="bold" text-anchor="end" >2.5</text>
<text transform="translate(71.5,100.42) scale(1.05,1)" font-size="27" font-weight="bold" text-anchor="end" >3</text>
<text transform="translate(71.5,19.29) scale(1.05,1)" font-size="27" font-weight="bold" text-anchor="end" >3.5</text>
<text transform="translate(85.5,659.2) scale(1.05,1)" font-size="27" font-weight="bold" text-anchor="middle" >0</text>
<text transform="translate(260.55,659.2) scale(1.05,1)" font-size="27" font-weight="bold" text-anchor="middle" >5</text>
<text transform="translate(435.6,659.2) scale(1.05,1)" font-size="27" font-weight="bold" text-anchor="middle" >10</text>
<text transform="translate(610.65,659.2) scale(1.05,1)" font-size="27" font-weight="bold" text-anchor="middle" >15</text>
<text transform="translate(785.7,659.2) scale(1.05,1)" font-size="27" font-weight="bold" text-anchor="middle" >20</text>
<text transform="translate(519.5,693.8) scale(1.07,1)" font-size="30" font-weight="bold" text-anchor="middle" >PV Module Voltage (V)</text>
<text transform="translate(24.2,318) rotate(-90) scale(1,1.1)" font-size="29.2" font-weight="bold" text-anchor="middle" >PV Module Current (A)</text>
<text transform="translate(515,741.3)" font-size="42" font-weight="bold" text-anchor="middle" >(a)</text>
<text transform="translate(311.9,56.5) scale(1.1,1)" font-size="22" font-weight="bold">1000W/m<tspan font-size="17.5" dx="1.2" dy="-11">2</tspan></text>
<text transform="translate(311.5,163.9) scale(1.1,1)" font-size="22" font-weight="bold">800W/m<tspan font-size="17.5" dx="1.2" dy="-11">2</tspan></text>
<text transform="translate(311.2,277.2) scale(1.1,1)" font-size="22" font-weight="bold">600W/m<tspan font-size="17.5" dx="1.2" dy="-11">2</tspan></text>
<text transform="translate(310.8,392.3) scale(1.1,1)" font-size="22" font-weight="bold">400W/m<tspan font-size="17.5" dx="1.2" dy="-11">2</tspan></text>
<text transform="translate(303.8,515.7) scale(1.1,1)" font-size="22" font-weight="bold">200W/m<tspan font-size="17.5" dx="1.2" dy="-11">2</tspan></text>
<rect x="763.2" y="22.2" width="185.2" height="134" fill="#fff" stroke="none"/>
<clipPath id="cia"><rect x="763.2" y="22.2" width="185.2" height="134"/></clipPath>
<g clip-path="url(#cia)" fill="none" stroke-linejoin="round">
<path d="M551.2,40.89L569.83,41.1L588.46,41.32L607.09,41.54L625.72,41.76L644.35,41.97L662.98,42.19L681.61,42.41L700.24,42.63L718.87,42.85L737.5,43.06L756.13,43.28L774.76,43.5L793.39,43.72L812.02,43.94L830.65,45.39L849.28,47.36L867.91,51.02L886.54,57.07L905.17,69.2L923.8,90.33L943.24,127.86L963.36,186.99L981.99,275.75L998.32,398.79" stroke="#00ff00" stroke-width="1.8"/>
<path d="M551.2,113.67L569.83,113.9L588.46,114.12L607.09,114.35L625.72,114.58L644.35,114.8L662.98,115.03L681.61,115.26L700.24,115.49L718.87,115.71L737.5,115.94L756.13,116.17L774.76,116.4L793.39,116.62L812.02,116.85L830.65,117.94L849.28,119.77L867.91,122.36L886.54,127.26L905.17,137.48L923.8,155.19L943.24,188.28L963.36,242L981.99,322.63" stroke="#00ff00" stroke-width="1.8"/>
<path d="M551.2,42.19L569.83,42.4L588.46,42.62L607.09,42.84L625.72,43.06L644.35,43.27L662.98,43.49L681.61,43.71L700.24,43.93L718.87,44.15L737.5,44.36L756.13,44.58L774.76,44.8L793.39,45.02L812.02,45.23L830.65,46.42L849.28,47.84L867.91,50.8L886.54,56.18L905.17,67.83L923.8,88.83L942.43,126.55L961.06,186.25L979.69,275.64L998.32,391.97" stroke="#ff0000" stroke-width="1.6"/>
<path d="M551.2,113.17L569.83,113.4L588.46,113.62L607.09,113.85L625.72,114.08L644.35,114.3L662.98,114.53L681.61,114.76L700.24,114.99L718.87,115.21L737.5,115.44L756.13,115.67L774.76,115.9L793.39,116.12L812.02,116.35L830.65,117.4L849.28,119.12L867.91,121.59L886.54,126.37L905.17,136.5L923.8,154.19L942.43,187.31L961.06,241.13L979.69,321.88" stroke="#ff0000" stroke-width="1.6"/>
<path d="M551.2,40.69L569.83,40.9L588.46,41.12L607.09,41.34L625.72,41.56L644.35,41.77L662.98,41.99L681.61,42.21L700.24,42.43L718.87,42.65L737.5,42.86L756.13,43.08L774.76,43.3L793.39,43.52L812.02,43.74L830.65,45.11L849.28,46.93L867.91,50.38L886.54,56.25L905.17,68.23L923.8,89.33L942.43,126.91L961.06,186.21L979.69,275.15L998.32,391.27" stroke="#00ffff" stroke-width="1.8"/>
<path d="M551.2,114.77L569.83,115L588.46,115.22L607.09,115.45L625.72,115.68L644.35,115.9L662.98,116.13L681.61,116.36L700.24,116.59L718.87,116.81L737.5,117.04L756.13,117.27L774.76,117.5L793.39,117.72L812.02,117.95L830.65,118.95L849.28,120.57L867.91,122.92L886.54,127.58L905.17,137.63L923.8,155.29L942.99,188.44L962.66,242.37L981.29,323.23" stroke="#00ffff" stroke-width="1.8"/>
<path d="M551.2,40.39L569.83,40.6L588.46,40.82L607.09,41.04L625.72,41.26L644.35,41.47L662.98,41.69L681.61,41.91L700.24,42.13L718.87,42.35L737.5,42.56L756.13,42.78L774.76,43L793.39,43.22L812.02,43.44L830.65,44.75L849.28,46.42L867.91,49.7L886.54,55.4L905.17,67.27L923.8,88.33L942.43,125.96L961.06,185.4L979.69,274.5L998.32,390.69" stroke="#ff00ff" stroke-width="1.6"/>
<path d="M551.2,112.87L569.83,113.1L588.46,113.32L607.09,113.55L625.72,113.78L644.35,114L662.98,114.23L681.61,114.46L700.24,114.69L718.87,114.91L737.5,115.14L756.13,115.37L774.76,115.6L793.39,115.82L812.02,116.05L830.65,117.13L849.28,118.94L867.91,121.51L886.54,126.38L905.17,136.58L923.8,154.29L942.43,187.38L961.06,241.12L979.69,321.78" stroke="#ff00ff" stroke-width="1.6"/>
<path d="M551.2,37.99L569.83,38.2L588.46,38.42L607.09,38.64L625.72,38.86L644.35,39.07L662.98,39.29L681.61,39.51L700.24,39.73L718.87,39.95L737.5,40.16L756.13,40.38L774.76,40.6L793.39,40.82L812.02,41.04L830.65,43.16L849.28,46.58L867.91,52.02L886.54,59.8L905.17,73.15L923.8,94.63L942.43,131.69L961.06,189.32L979.69,276.48L998.32,391.77" stroke="#0000ff" stroke-width="2"/>
<path d="M551.2,113.37L569.83,113.6L588.46,113.82L607.09,114.05L625.72,114.28L644.35,114.5L662.98,114.73L681.61,114.96L700.24,115.19L718.87,115.41L737.5,115.64L756.13,115.87L774.76,116.1L793.39,116.32L812.02,116.55L830.65,117.64L849.28,119.47L867.91,122.06L886.54,126.96L905.17,137.18L923.8,154.89L942.43,187.98L961.06,241.7L979.69,322.33" stroke="#0000ff" stroke-width="2"/>
<path d="M551.2,40.59L569.83,40.8L588.46,41.02L607.09,41.24L625.72,41.46L644.35,41.67L662.98,41.89L681.61,42.11L700.24,42.33L718.87,42.55L737.5,42.76L756.13,42.98L774.76,43.2L793.39,43.42L812.02,43.64L830.65,45.28L849.28,47.68L867.91,51.86L886.54,58.41L905.17,70.9L923.8,92.13L942.43,129.52L961.06,188.21L979.69,276.51L998.32,392.33" stroke="#ffff00" stroke-width="2.4"/>
<path d="M551.2,111.57L569.83,111.8L588.46,112.02L607.09,112.25L625.72,112.48L644.35,112.7L662.98,112.93L681.61,113.16L700.24,113.39L718.87,113.61L737.5,113.84L756.13,114.07L774.76,114.3L793.39,114.52L812.02,114.76L830.65,116.22L849.28,118.84L867.91,122.43L886.54,128.29L905.17,139.19L923.8,157.09L942.43,189.92L961.06,242.8L979.69,322.55" stroke="#ffff00" stroke-width="2.4"/>
<path d="M551.2,39.39L569.83,39.6L588.46,39.82L607.09,40.04L625.72,40.26L644.35,40.47L662.98,40.69L681.61,40.91L700.24,41.13L718.87,41.35L737.5,41.56L756.13,41.78L774.76,42L793.39,42.22L812.02,42.44L830.65,43.94L849.28,46.04L867.91,49.84L886.54,56.04L905.17,68.27L923.8,89.43L942.43,126.92L961.06,185.92L979.69,274.56L998.32,390.53" stroke="#000000" stroke-width="2.8"/>
<path d="M551.2,114.27L569.83,114.5L588.46,114.72L607.09,114.95L625.72,115.18L644.35,115.4L662.98,115.63L681.61,115.86L700.24,116.09L718.87,116.31L737.5,116.54L756.13,116.77L774.76,117L793.39,117.22L812.02,117.45L830.65,118.44L849.28,120.04L867.91,122.36L886.54,127L905.17,137.03L923.8,154.69L942.43,187.85L961.06,241.8L979.69,322.68" stroke="#000000" stroke-width="2.8"/>
<path d="M551.2,40.39L569.83,40.6L588.46,40.82L607.09,41.04L625.72,41.26L644.35,41.47L662.98,41.69L681.61,41.91L700.24,42.13L718.87,42.35L737.5,42.56L756.13,42.78L774.76,43L793.39,43.22L812.02,43.43L830.65,44.62L849.28,46.04L867.91,49L886.54,54.38L905.17,66.03L923.8,87.03L942.43,124.75L961.06,184.45L979.69,273.84L998.32,390.17" stroke="#808080" stroke-width="3"/>
<path d="M551.2,113.07L569.83,113.3L588.46,113.52L607.09,113.75L625.72,113.98L644.35,114.2L662.98,114.43L681.61,114.66L700.24,114.89L718.87,115.11L737.5,115.34L756.13,115.57L774.76,115.8L793.39,116.02L812.02,116.25L830.65,117.18L849.28,118.67L867.91,120.84L886.54,125.33L905.17,135.26L923.8,152.89L942.43,186.09L961.06,240.16L979.69,321.18" stroke="#808080" stroke-width="3"/>
</g>
<path d="M774.76,36L772.54,39.5L768.09,39.5L770.31,43L768.09,46.5L772.54,46.5L774.76,50L776.98,46.5L781.43,46.5L779.21,43L781.43,39.5L776.98,39.5ZM793.39,36.22L791.17,39.72L786.72,39.72L788.94,43.22L786.72,46.72L791.17,46.72L793.39,50.22L795.61,46.72L800.06,46.72L797.84,43.22L800.06,39.72L795.61,39.72ZM812.02,36.43L809.8,39.93L805.35,39.93L807.57,43.43L805.35,46.93L809.8,46.93L812.02,50.43L814.24,46.93L818.69,46.93L816.47,43.43L818.69,39.93L814.24,39.93ZM830.65,37.7L828.43,41.2L823.98,41.2L826.2,44.7L823.98,48.2L828.43,48.2L830.65,51.7L832.87,48.2L837.32,48.2L835.1,44.7L837.32,41.2L832.87,41.2ZM849.28,39.28L847.06,42.78L842.61,42.78L844.83,46.28L842.61,49.78L847.06,49.78L849.28,53.28L851.5,49.78L855.95,49.78L853.73,46.28L855.95,42.78L851.5,42.78ZM867.91,42.43L865.69,45.93L861.24,45.93L863.46,49.43L861.24,52.93L865.69,52.93L867.91,56.43L870.13,52.93L874.58,52.93L872.36,49.43L874.58,45.93L870.13,45.93ZM886.54,48.01L884.32,51.51L879.87,51.51L882.09,55.01L879.87,58.51L884.32,58.51L886.54,62.01L888.76,58.51L893.21,58.51L890.99,55.01L893.21,51.51L888.76,51.51ZM905.17,59.79L902.95,63.29L898.5,63.29L900.72,66.79L898.5,70.29L902.95,70.29L905.17,73.79L907.39,70.29L911.84,70.29L909.62,66.79L911.84,63.29L907.39,63.29ZM923.8,80.83L921.58,84.33L917.13,84.33L919.35,87.83L917.13,91.33L921.58,91.33L923.8,94.83L926.02,91.33L930.47,91.33L928.25,87.83L930.47,84.33L926.02,84.33ZM942.43,118.49L940.21,121.99L935.76,121.99L937.98,125.49L935.76,128.99L940.21,128.99L942.43,132.49L944.65,128.99L949.1,128.99L946.88,125.49L949.1,121.99L944.65,121.99ZM774.76,108.6L772.54,112.1L768.09,112.1L770.31,115.6L768.09,119.1L772.54,119.1L774.76,122.6L776.98,119.1L781.43,119.1L779.21,115.6L781.43,112.1L776.98,112.1ZM793.39,108.82L791.17,112.32L786.72,112.32L788.94,115.82L786.72,119.32L791.17,119.32L793.39,122.82L795.61,119.32L800.06,119.32L797.84,115.82L800.06,112.32L795.61,112.32ZM812.02,109.05L809.8,112.55L805.35,112.55L807.57,116.05L805.35,119.55L809.8,119.55L812.02,123.05L814.24,119.55L818.69,119.55L816.47,116.05L818.69,112.55L814.24,112.55ZM830.65,110.08L828.43,113.58L823.98,113.58L826.2,117.08L823.98,120.58L828.43,120.58L830.65,124.08L832.87,120.58L837.32,120.58L835.1,117.08L837.32,113.58L832.87,113.58ZM849.28,111.76L847.06,115.26L842.61,115.26L844.83,118.76L842.61,122.26L847.06,122.26L849.28,125.76L851.5,122.26L855.95,122.26L853.73,118.76L855.95,115.26L851.5,115.26ZM867.91,114.18L865.69,117.68L861.24,117.68L863.46,121.18L861.24,124.68L865.69,124.68L867.91,128.18L870.13,124.68L874.58,124.68L872.36,121.18L874.58,117.68L870.13,117.68ZM886.54,118.91L884.32,122.41L879.87,122.41L882.09,125.91L879.87,129.41L884.32,129.41L886.54,132.91L888.76,129.41L893.21,129.41L890.99,125.91L893.21,122.41L888.76,122.41ZM905.17,129.01L902.95,132.51L898.5,132.51L900.72,136.01L898.5,139.51L902.95,139.51L905.17,143.01L907.39,139.51L911.84,139.51L909.62,136.01L911.84,132.51L907.39,132.51ZM923.8,146.69L921.58,150.19L917.13,150.19L919.35,153.69L917.13,157.19L921.58,157.19L923.8,160.69L926.02,157.19L930.47,157.19L928.25,153.69L930.47,150.19L926.02,150.19Z" fill="#000" stroke="#000" stroke-width="0.6"/>
<path d="M799.6,156.2v-3M799.6,22.2v3M841,156.2v-3M841,22.2v3M882.4,156.2v-3M882.4,22.2v3M923.8,156.2v-3M923.8,22.2v3M763.2,139.8h3M948.4,139.8h-3M763.2,87.2h3M948.4,87.2h-3M763.2,34.6h3M948.4,34.6h-3" stroke="#262626" stroke-width="1.1" fill="none"/>
<rect x="763.2" y="22.2" width="185.2" height="134" fill="none" stroke="#1a1a1a" stroke-width="1.4"/>
<text transform="translate(760,145.4)" font-size="15.8" font-weight="bold" text-anchor="end" >2.5</text>
<text transform="translate(760,92.8)" font-size="15.8" font-weight="bold" text-anchor="end" >3</text>
<text transform="translate(760,40.2)" font-size="15.8" font-weight="bold" text-anchor="end" >3.5</text>
<text transform="translate(799.6,174)" font-size="15.2" font-weight="bold" text-anchor="middle" >12</text>
<text transform="translate(841,174)" font-size="15.2" font-weight="bold" text-anchor="middle" >14</text>
<text transform="translate(882.4,174)" font-size="15.2" font-weight="bold" text-anchor="middle" >16</text>
<text transform="translate(923.8,174)" font-size="15.2" font-weight="bold" text-anchor="middle" >18</text>
<path d="M702.9,79L748.5,68.7" stroke="#000" stroke-width="1.3" fill="none"/>
<path d="M761.8,65.6L739.8,63.1L747.7,68.9L743.4,76.8Z" fill="#000" stroke="#000" stroke-width="0.5" stroke-linejoin="miter"/>
<rect x="100.6" y="551.6" width="442.3" height="57.7" fill="#fff" stroke="#262626" stroke-width="1.2"/>
<path d="M106.4,562.8H167.5" stroke="#ff0000" stroke-width="3"/>
<text transform="translate(173.4,568) scale(1.07,1)" font-size="15.3" font-weight="normal" text-anchor="start" >OBEDO</text>
<path d="M106.4,580.6H167.5" stroke="#00ff00" stroke-width="3"/>
<text transform="translate(173.4,585.8) scale(1.07,1)" font-size="15.3" font-weight="normal" text-anchor="start" >EDO</text>
<path d="M106.4,598.7H167.5" stroke="#0000ff" stroke-width="3"/>
<text transform="translate(173.4,603.9) scale(1.07,1)" font-size="15.3" font-weight="normal" text-anchor="start" >ADHHO</text>
<path d="M244.7,562.8H305.3" stroke="#00ffff" stroke-width="3"/>
<text transform="translate(310.7,568) scale(1.07,1)" font-size="15.3" font-weight="normal" text-anchor="start" >OBMPA</text>
<path d="M244.7,580.6H305.3" stroke="#ff00ff" stroke-width="3"/>
<text transform="translate(310.7,585.8) scale(1.07,1)" font-size="15.3" font-weight="normal" text-anchor="start" >MGTO</text>
<path d="M244.7,598.7H305.3" stroke="#ffff00" stroke-width="3"/>
<text transform="translate(310.7,603.9) scale(1.07,1)" font-size="15.3" font-weight="normal" text-anchor="start" >IAOA</text>
<path d="M382,562.8H443.1" stroke="#000000" stroke-width="3"/>
<text transform="translate(448.5,568) scale(1.07,1)" font-size="15.3" font-weight="normal" text-anchor="start" >HDE</text>
<path d="M382,580.6H443.1" stroke="#808080" stroke-width="3"/>
<text transform="translate(448.5,585.8) scale(1.07,1)" font-size="15.3" font-weight="normal" text-anchor="start" >OBGBO</text>
<path d="M412.4,592.2L410.18,595.7L405.73,595.7L407.95,599.2L405.73,602.7L410.18,602.7L412.4,606.2L414.62,602.7L419.07,602.7L416.85,599.2L419.07,595.7L414.62,595.7Z" fill="#000" stroke="#000" stroke-width="0.6"/>
<text transform="translate(448.5,603.9) scale(1.07,1)" font-size="15.3" font-weight="normal" text-anchor="start" >Experimental</text>
<path d="M86.8,1414.1v-8.5M86.8,797.3v8.5M260.3,1414.1v-8.5M260.3,797.3v8.5M433.8,1414.1v-8.5M433.8,797.3v8.5M607.3,1414.1v-8.5M607.3,797.3v8.5M780.8,1414.1v-8.5M780.8,797.3v8.5M954.3,1414.1v-8.5M954.3,797.3v8.5M86.8,1414.1h8.5M954.3,1414.1h-8.5M86.8,1311.3h8.5M954.3,1311.3h-8.5M86.8,1208.5h8.5M954.3,1208.5h-8.5M86.8,1105.7h8.5M954.3,1105.7h-8.5M86.8,1002.9h8.5M954.3,1002.9h-8.5M86.8,900.1h8.5M954.3,900.1h-8.5M86.8,797.3h8.5M954.3,797.3h-8.5" stroke="#262626" stroke-width="1.2" fill="none"/>
<rect x="86.8" y="797.3" width="867.5" height="616.8" fill="none" stroke="#262626" stroke-width="1.3"/>
<g fill="none" stroke-linejoin="round">
<clipPath id="cb"><rect x="86.8" y="797.3" width="867.5" height="616.8"/></clipPath>
<g clip-path="url(#cb)">
<path d="M86.8,1414.1L118.03,1382.32L149.26,1350.58L180.49,1318.88L211.72,1287.21L242.95,1255.59L274.18,1224L305.41,1192.43L336.64,1160.84L367.87,1129.29L399.1,1097.78L430.33,1066.31L461.56,1034.88L492.79,1003.49L524.02,972.13L555.25,942.61L586.48,914.24L617.71,888.72L648.94,867.55L680.17,857.42L711.4,865.09L743.44,906.65L776.16,996.53L807.39,1156.83L836.32,1401.02" stroke="#00ff00" stroke-width="2"/>
<path d="M86.8,1414.1L118.03,1388.74L149.26,1363.42L180.49,1338.14L211.72,1312.91L242.95,1287.71L274.18,1262.55L305.41,1237.39L336.64,1212.19L367.87,1187.03L399.1,1161.91L430.33,1136.83L461.56,1111.8L492.79,1086.8L524.02,1061.84L555.25,1038.18L586.48,1015.86L617.71,995.04L648.94,978.3L680.17,971.2L711.4,978.93L743.44,1018.07L776.16,1102.84L807.39,1251.52" stroke="#00ff00" stroke-width="2"/>
<path d="M86.8,1414.1L118.03,1395.11L149.26,1376.15L180.49,1357.24L211.72,1338.37L242.95,1319.53L274.18,1300.74L305.41,1281.95L336.64,1263.11L367.87,1244.32L399.1,1225.57L430.33,1206.85L461.56,1188.18L492.79,1169.55L524.02,1150.96L555.25,1133.66L586.48,1117.26L617.71,1102.15L648.94,1091.21L680.17,1087.04L711.4,1096.24L742.63,1131.73L773.86,1210.92L805.09,1349.83" stroke="#00ff00" stroke-width="2"/>
<path d="M86.8,1414.1L118.03,1401.52L149.26,1388.99L180.49,1376.5L211.72,1364.06L242.95,1351.67L274.18,1339.31L305.41,1326.96L336.64,1314.54L367.87,1302.18L399.1,1289.86L430.33,1277.58L461.56,1265.35L492.79,1253.16L524.02,1241.02L555.25,1229.27L586.48,1218.21L617.71,1208.77L648.94,1203.27L680.17,1202.95L711.4,1214.72L742.63,1249.02L773.86,1320.93" stroke="#00ff00" stroke-width="2"/>
<path d="M86.8,1414.1L118.03,1407.91L149.26,1401.76L180.49,1395.66L211.72,1389.6L242.95,1383.59L274.18,1377.62L305.41,1371.64L336.64,1365.62L367.87,1359.63L399.1,1353.69L430.33,1347.8L461.56,1341.95L492.79,1336.15L524.02,1330.39L555.25,1324.85L586.48,1319.47L617.71,1316.4L648.94,1315.96L680.17,1320.25L711.4,1334.87L742.63,1368.63" stroke="#00ff00" stroke-width="2"/>
<path d="M86.8,1414.1L118.03,1382.04L149.26,1350.01L180.49,1318.02L211.72,1286.07L242.95,1254.16L274.18,1222.29L305.41,1190.53L336.64,1158.94L367.87,1127.39L399.1,1095.88L430.33,1064.41L461.56,1032.98L492.79,1001.59L524.02,970.23L555.25,940.57L586.48,911.9L617.71,886.01L648.94,864.48L680.17,854.09L711.4,861.69L742.63,903.35L773.86,993.54L805.09,1154.17L836.32,1387.92" stroke="#ff0000" stroke-width="1.5"/>
<path d="M86.8,1414.1L118.03,1388.55L149.26,1363.03L180.49,1337.56L211.72,1312.13L242.95,1286.73L274.18,1261.38L305.41,1236.09L336.64,1210.89L367.87,1185.73L399.1,1160.61L430.33,1135.53L461.56,1110.5L492.79,1085.5L524.02,1060.54L555.25,1036.81L586.48,1014.35L617.71,993.36L648.94,976.45L680.17,969.23L711.4,976.93L742.63,1016.12L773.86,1101.03L805.09,1249.86" stroke="#ff0000" stroke-width="1.5"/>
<path d="M86.8,1414.1L118.03,1394.91L149.26,1375.76L180.49,1356.66L211.72,1337.59L242.95,1318.56L274.18,1299.57L305.41,1280.65L336.64,1261.81L367.87,1243.02L399.1,1224.27L430.33,1205.55L461.56,1186.88L492.79,1168.25L524.02,1149.65L555.25,1132.29L586.48,1115.76L617.71,1100.47L648.94,1089.36L680.17,1085.07L711.4,1094.24L742.63,1129.78L773.86,1209.11L805.09,1348.18" stroke="#ff0000" stroke-width="1.5"/>
<path d="M86.8,1414.1L118.03,1401.37L149.26,1388.69L180.49,1376.05L211.72,1363.46L242.95,1350.92L274.18,1338.41L305.41,1325.96L336.64,1313.54L367.87,1301.18L399.1,1288.86L430.33,1276.58L461.56,1264.35L492.79,1252.16L524.02,1240.02L555.25,1228.19L586.48,1216.95L617.71,1207.28L648.94,1201.57L680.17,1201.09L711.4,1212.82L742.63,1247.18L773.86,1319.28" stroke="#ff0000" stroke-width="1.5"/>
<path d="M86.8,1414.1L118.03,1407.76L149.26,1401.46L180.49,1395.21L211.72,1389L242.95,1382.84L274.18,1376.72L305.41,1370.64L336.64,1364.62L367.87,1358.63L399.1,1352.69L430.33,1346.8L461.56,1340.95L492.79,1335.15L524.02,1329.39L555.25,1323.81L586.48,1318.35L617.71,1315.18L648.94,1314.65L680.17,1318.87L711.4,1333.47L742.63,1367.25" stroke="#ff0000" stroke-width="1.5"/>
<path d="M86.8,1414.1L118.03,1382.29L149.26,1350.52L180.49,1318.79L211.72,1287.09L242.95,1255.44L274.18,1223.82L305.41,1192.23L336.64,1160.64L367.87,1129.09L399.1,1097.58L430.33,1066.11L461.56,1034.68L492.79,1003.29L524.02,971.93L555.25,942.24L586.48,913.51L617.71,887.55L648.94,865.94L680.17,855.5L711.4,863.09L742.63,904.77L773.86,995.03L805.09,1155.72L836.32,1389.5" stroke="#00ffff" stroke-width="2"/>
<path d="M86.8,1414.1L118.03,1388.77L149.26,1363.48L180.49,1338.23L211.72,1313.03L242.95,1287.86L274.18,1262.73L305.41,1237.59L336.64,1212.39L367.87,1187.23L399.1,1162.11L430.33,1137.03L461.56,1112L492.79,1087L524.02,1062.04L555.25,1038.42L586.48,1016.18L617.71,995.46L648.94,978.81L680.17,971.78L711.4,979.53L743.19,1018.65L775.46,1103.33L806.69,1251.92" stroke="#00ffff" stroke-width="2"/>
<path d="M86.8,1414.1L118.03,1395.14L149.26,1376.21L180.49,1357.33L211.72,1338.49L242.95,1319.68L274.18,1300.92L305.41,1282.15L336.64,1263.31L367.87,1244.52L399.1,1225.77L430.33,1207.05L461.56,1188.38L492.79,1169.75L524.02,1151.16L555.25,1133.86L586.48,1117.46L617.71,1102.35L648.94,1091.41L680.17,1087.24L711.4,1096.44L742.63,1131.93L773.86,1211.12L805.09,1350.03" stroke="#00ffff" stroke-width="2"/>
<path d="M86.8,1414.1L118.03,1401.49L149.26,1388.93L180.49,1376.41L211.72,1363.94L242.95,1351.52L274.18,1339.13L305.41,1326.76L336.64,1314.34L367.87,1301.98L399.1,1289.66L430.33,1277.38L461.56,1265.15L492.79,1252.96L524.02,1240.82L555.25,1228.91L586.48,1217.49L617.71,1207.59L648.94,1201.67L680.17,1201.03L711.4,1212.72L742.63,1247.14L773.86,1319.42" stroke="#00ffff" stroke-width="2"/>
<path d="M86.8,1414.1L118.03,1407.85L149.26,1401.64L180.49,1395.48L211.72,1389.36L242.95,1383.29L274.18,1377.26L305.41,1371.24L336.64,1365.22L367.87,1359.23L399.1,1353.29L430.33,1347.4L461.56,1341.55L492.79,1335.75L524.02,1329.99L555.25,1324.41L586.48,1318.95L617.71,1315.78L648.94,1315.25L680.17,1319.47L711.4,1334.07L742.63,1367.85" stroke="#00ffff" stroke-width="2"/>
<path d="M86.8,1414.1L118.03,1382.4L149.26,1350.73L180.49,1319.1L211.72,1287.51L242.95,1255.96L274.18,1224.45L305.41,1192.93L336.64,1161.34L367.87,1129.79L399.1,1098.28L430.33,1066.81L461.56,1035.38L492.79,1003.99L524.02,972.63L555.25,942.69L586.48,913.42L617.71,886.78L648.94,864.53L680.17,853.63L711.4,861.09L742.63,902.95L773.86,993.76L805.09,1155.06L836.32,1389.12" stroke="#ff00ff" stroke-width="1.6"/>
<path d="M86.8,1414.1L118.03,1388.62L149.26,1363.18L180.49,1337.78L211.72,1312.43L242.95,1287.11L274.18,1261.83L305.41,1236.59L336.64,1211.39L367.87,1186.23L399.1,1161.11L430.33,1136.03L461.56,1111L492.79,1086L524.02,1061.04L555.25,1037.27L586.48,1014.71L617.71,993.59L648.94,976.56L680.17,969.25L711.4,976.93L742.63,1016.15L773.86,1101.17L805.09,1250.11" stroke="#ff00ff" stroke-width="1.6"/>
<path d="M86.8,1414.1L118.03,1394.87L149.26,1375.67L180.49,1356.52L211.72,1337.41L242.95,1318.33L274.18,1299.3L305.41,1280.35L336.64,1261.51L367.87,1242.72L399.1,1223.97L430.33,1205.25L461.56,1186.58L492.79,1167.95L524.02,1149.35L555.25,1132.02L586.48,1115.54L617.71,1100.34L648.94,1089.3L680.17,1085.06L711.4,1094.24L742.63,1129.76L773.86,1209.03L805.09,1348.03" stroke="#ff00ff" stroke-width="1.6"/>
<path d="M86.8,1414.1L118.03,1401.19L149.26,1388.33L180.49,1375.51L211.72,1362.74L242.95,1350.02L274.18,1337.33L305.41,1324.76L336.64,1312.34L367.87,1299.98L399.1,1287.66L430.33,1275.38L461.56,1263.15L492.79,1250.96L524.02,1238.82L555.25,1226.92L586.48,1215.51L617.71,1205.65L648.94,1199.74L680.17,1199.13L711.4,1210.82L742.63,1245.23L773.86,1317.5" stroke="#ff00ff" stroke-width="1.6"/>
<path d="M86.8,1414.1L118.03,1407.68L149.26,1401.31L180.49,1394.98L211.72,1388.7L242.95,1382.46L274.18,1376.27L305.41,1370.14L336.64,1364.12L367.87,1358.13L399.1,1352.19L430.33,1346.3L461.56,1340.45L492.79,1334.65L524.02,1328.89L555.25,1323.3L586.48,1317.82L617.71,1314.62L648.94,1314.07L680.17,1318.27L711.4,1332.87L742.63,1366.66" stroke="#ff00ff" stroke-width="1.6"/>
<path d="M86.8,1414.1L118.03,1382.01L149.26,1349.95L180.49,1317.93L211.72,1285.95L242.95,1254.01L274.18,1222.11L305.41,1190.33L336.64,1158.74L367.87,1127.19L399.1,1095.68L430.33,1064.21L461.56,1032.78L492.79,1001.39L524.02,970.04L555.25,941.16L586.48,914.16L617.71,890.37L648.94,870.84L680.17,861.89L711.4,869.89L742.63,911L773.86,999.45L805.09,1158.21L836.32,1391.08" stroke="#0000ff" stroke-width="2.4"/>
<path d="M86.8,1414.1L118.03,1388.7L149.26,1363.33L180.49,1338.01L211.72,1312.73L242.95,1287.48L274.18,1262.28L305.41,1237.09L336.64,1211.89L367.87,1186.73L399.1,1161.61L430.33,1136.53L461.56,1111.5L492.79,1086.5L524.02,1061.54L555.25,1037.81L586.48,1015.35L617.71,994.36L648.94,977.45L680.17,970.23L711.4,977.93L742.63,1017.12L773.86,1102.03L805.09,1250.86" stroke="#0000ff" stroke-width="2.4"/>
<path d="M86.8,1414.1L118.03,1395.06L149.26,1376.06L180.49,1357.11L211.72,1338.19L242.95,1319.31L274.18,1300.47L305.41,1281.65L336.64,1262.81L367.87,1244.02L399.1,1225.27L430.33,1206.55L461.56,1187.88L492.79,1169.25L524.02,1150.65L555.25,1133.29L586.48,1116.76L617.71,1101.47L648.94,1090.36L680.17,1086.07L711.4,1095.24L742.63,1130.78L773.86,1210.11L805.09,1349.18" stroke="#0000ff" stroke-width="2.4"/>
<path d="M86.8,1414.1L118.03,1401.45L149.26,1388.84L180.49,1376.28L211.72,1363.76L242.95,1351.29L274.18,1338.86L305.41,1326.46L336.64,1314.04L367.87,1301.68L399.1,1289.36L430.33,1277.08L461.56,1264.85L492.79,1252.66L524.02,1240.52L555.25,1228.66L586.48,1217.36L617.71,1207.62L648.94,1201.83L680.17,1201.3L711.4,1213.02L742.63,1247.4L773.86,1319.56" stroke="#0000ff" stroke-width="2.4"/>
<path d="M86.8,1414.1L118.03,1407.83L149.26,1401.61L180.49,1395.43L211.72,1389.3L242.95,1383.21L274.18,1377.17L305.41,1371.14L336.64,1365.12L367.87,1359.13L399.1,1353.19L430.33,1347.3L461.56,1341.45L492.79,1335.65L524.02,1329.89L555.25,1324.3L586.48,1318.82L617.71,1315.62L648.94,1315.07L680.17,1319.27L711.4,1333.87L742.63,1367.66" stroke="#0000ff" stroke-width="2.4"/>
<path d="M86.8,1414.1L118.03,1382.25L149.26,1350.43L180.49,1318.65L211.72,1286.91L242.95,1255.21L274.18,1223.55L305.41,1191.93L336.64,1160.34L367.87,1128.79L399.1,1097.28L430.33,1065.81L461.56,1034.38L492.79,1002.99L524.02,971.64L555.25,942.35L586.48,914.47L617.71,889.58L648.94,869L680.17,859.3L711.4,867.09L742.63,908.49L773.86,997.85L805.09,1157.59L836.32,1390.92" stroke="#ffff00" stroke-width="3"/>
<path d="M86.8,1414.1L118.03,1388.77L149.26,1363.48L180.49,1338.23L211.72,1313.03L242.95,1287.86L274.18,1262.73L305.41,1237.59L336.64,1212.39L367.87,1187.23L399.1,1162.11L430.33,1137.03L461.56,1112L492.79,1087L524.02,1062.04L555.25,1038.62L586.48,1016.82L617.71,996.65L648.94,980.53L680.17,973.87L711.4,981.73L742.63,1020.7L773.86,1104.93L805.09,1253.03" stroke="#ffff00" stroke-width="3"/>
<path d="M86.8,1414.1L118.03,1395.11L149.26,1376.15L180.49,1357.24L211.72,1338.37L242.95,1319.53L274.18,1300.74L305.41,1281.95L336.64,1263.11L367.87,1244.32L399.1,1225.57L430.33,1206.85L461.56,1188.18L492.79,1169.55L524.02,1150.96L555.25,1133.85L586.48,1117.85L617.71,1103.24L648.94,1092.77L680.17,1088.95L711.4,1098.24L742.63,1133.6L773.86,1212.37L805.09,1350.84" stroke="#ffff00" stroke-width="3"/>
<path d="M86.8,1414.1L118.03,1401.46L149.26,1388.87L180.49,1376.32L211.72,1363.82L242.95,1351.37L274.18,1338.95L305.41,1326.56L336.64,1314.14L367.87,1301.78L399.1,1289.46L430.33,1277.18L461.56,1264.95L492.79,1252.76L524.02,1240.62L555.25,1228.79L586.48,1217.55L617.71,1207.88L648.94,1202.17L680.17,1201.69L711.4,1213.42L742.63,1247.78L773.86,1319.88" stroke="#ffff00" stroke-width="3"/>
<path d="M86.8,1414.1L118.03,1407.85L149.26,1401.64L180.49,1395.48L211.72,1389.36L242.95,1383.29L274.18,1377.26L305.41,1371.24L336.64,1365.22L367.87,1359.23L399.1,1353.29L430.33,1347.4L461.56,1341.55L492.79,1335.75L524.02,1329.99L555.25,1324.52L586.48,1319.3L617.71,1316.43L648.94,1316.19L680.17,1320.61L711.4,1335.27L742.63,1368.97" stroke="#ffff00" stroke-width="3"/>
<path d="M86.8,1414.1L118.03,1382.05L149.26,1350.04L180.49,1318.07L211.72,1286.13L242.95,1254.24L274.18,1222.38L305.41,1190.63L336.64,1159.04L367.87,1127.49L399.1,1095.98L430.33,1064.51L461.56,1033.08L492.79,1001.69L524.02,970.34L555.25,940.87L586.48,912.62L617.71,887.25L648.94,866.22L680.17,856.19L711.4,863.89L742.63,905.41L773.86,995.17L805.09,1155.33L836.32,1388.86" stroke="#000000" stroke-width="3"/>
<path d="M86.8,1414.1L118.03,1388.67L149.26,1363.27L180.49,1337.92L211.72,1312.61L242.95,1287.33L274.18,1262.1L305.41,1236.89L336.64,1211.69L367.87,1186.53L399.1,1161.41L430.33,1136.33L461.56,1111.3L492.79,1086.3L524.02,1061.34L555.25,1037.69L586.48,1015.39L617.71,994.6L648.94,977.87L680.17,970.79L711.4,978.53L742.63,1017.67L773.86,1102.41L805.09,1251.07" stroke="#000000" stroke-width="3"/>
<path d="M86.8,1414.1L118.03,1395.03L149.26,1376L180.49,1357.02L211.72,1338.07L242.95,1319.16L274.18,1300.29L305.41,1281.45L336.64,1262.61L367.87,1243.82L399.1,1225.07L430.33,1206.35L461.56,1187.68L492.79,1169.05L524.02,1150.46L555.25,1133.15L586.48,1116.73L617.71,1101.6L648.94,1090.63L680.17,1086.45L711.4,1095.64L742.63,1131.14L773.86,1210.35L805.09,1349.28" stroke="#000000" stroke-width="3"/>
<path d="M86.8,1414.1L118.03,1401.4L149.26,1388.75L180.49,1376.14L211.72,1363.58L242.95,1351.07L274.18,1338.59L305.41,1326.16L336.64,1313.74L367.87,1301.38L399.1,1289.06L430.33,1276.78L461.56,1264.55L492.79,1252.36L524.02,1240.22L555.25,1228.34L586.48,1217L617.71,1207.21L648.94,1201.38L680.17,1200.81L711.4,1212.52L742.63,1246.91L773.86,1319.11" stroke="#000000" stroke-width="3"/>
<path d="M86.8,1414.1L118.03,1407.79L149.26,1401.52L180.49,1395.3L211.72,1389.12L242.95,1382.99L274.18,1376.9L305.41,1370.84L336.64,1364.82L367.87,1358.83L399.1,1352.89L430.33,1347L461.56,1341.15L492.79,1335.35L524.02,1329.59L555.25,1324.05L586.48,1318.67L617.71,1315.6L648.94,1315.16L680.17,1319.45L711.4,1334.07L742.63,1367.83" stroke="#000000" stroke-width="3"/>
<path d="M86.8,1414.1L118.03,1382.25L149.26,1350.43L180.49,1318.65L211.72,1286.91L242.95,1255.21L274.18,1223.55L305.41,1191.93L336.64,1160.34L367.87,1128.79L399.1,1097.28L430.33,1065.81L461.56,1034.38L492.79,1002.99L524.02,971.63L555.25,941.69L586.48,912.42L617.71,885.78L648.94,863.53L680.17,852.63L711.4,860.09L742.63,901.95L773.86,992.76L805.09,1154.06L836.32,1388.12" stroke="#808080" stroke-width="2.8"/>
<path d="M86.8,1414.1L118.03,1388.62L149.26,1363.18L180.49,1337.78L211.72,1312.43L242.95,1287.11L274.18,1261.83L305.41,1236.59L336.64,1211.39L367.87,1186.23L399.1,1161.11L430.33,1136.03L461.56,1111L492.79,1086L524.02,1061.04L555.25,1037.17L586.48,1014.41L617.71,993.05L648.94,975.78L680.17,968.3L711.4,975.93L742.63,1015.22L773.86,1100.44L805.09,1249.61" stroke="#808080" stroke-width="2.8"/>
<path d="M86.8,1414.1L118.03,1394.99L149.26,1375.91L180.49,1356.88L211.72,1337.89L242.95,1318.93L274.18,1300.02L305.41,1281.15L336.64,1262.31L367.87,1243.52L399.1,1224.77L430.33,1206.05L461.56,1187.38L492.79,1168.75L524.02,1150.15L555.25,1132.65L586.48,1115.82L617.71,1100.16L648.94,1088.69L680.17,1084.15L711.4,1093.24L742.63,1128.88L773.86,1208.52L805.09,1347.92" stroke="#808080" stroke-width="2.8"/>
<path d="M86.8,1414.1L118.03,1401.37L149.26,1388.69L180.49,1376.05L211.72,1363.46L242.95,1350.92L274.18,1338.41L305.41,1325.96L336.64,1313.54L367.87,1301.18L399.1,1288.86L430.33,1276.58L461.56,1264.35L492.79,1252.16L524.02,1240.02L555.25,1228.13L586.48,1216.77L617.71,1206.96L648.94,1201.1L680.17,1200.52L711.4,1212.22L742.63,1246.62L773.86,1318.84" stroke="#808080" stroke-width="2.8"/>
<path d="M86.8,1414.1L118.03,1407.76L149.26,1401.46L180.49,1395.21L211.72,1389L242.95,1382.84L274.18,1376.72L305.41,1370.64L336.64,1364.62L367.87,1358.63L399.1,1352.69L430.33,1346.8L461.56,1340.95L492.79,1335.15L524.02,1329.39L555.25,1323.75L586.48,1318.18L617.71,1314.85L648.94,1314.18L680.17,1318.3L711.4,1332.87L742.63,1366.69" stroke="#808080" stroke-width="2.8"/>
</g></g>
<path d="M86.8,1407.1L84.58,1410.6L80.13,1410.6L82.35,1414.1L80.13,1417.6L84.58,1417.6L86.8,1421.1L89.02,1417.6L93.47,1417.6L91.25,1414.1L93.47,1410.6L89.02,1410.6ZM118.03,1375.25L115.81,1378.75L111.36,1378.75L113.58,1382.25L111.36,1385.75L115.81,1385.75L118.03,1389.25L120.25,1385.75L124.7,1385.75L122.48,1382.25L124.7,1378.75L120.25,1378.75ZM149.26,1343.43L147.04,1346.93L142.59,1346.93L144.81,1350.43L142.59,1353.93L147.04,1353.93L149.26,1357.43L151.48,1353.93L155.93,1353.93L153.71,1350.43L155.93,1346.93L151.48,1346.93ZM180.49,1311.65L178.27,1315.15L173.82,1315.15L176.04,1318.65L173.82,1322.15L178.27,1322.15L180.49,1325.65L182.71,1322.15L187.16,1322.15L184.94,1318.65L187.16,1315.15L182.71,1315.15ZM211.72,1279.91L209.5,1283.41L205.05,1283.41L207.27,1286.91L205.05,1290.41L209.5,1290.41L211.72,1293.91L213.94,1290.41L218.39,1290.41L216.17,1286.91L218.39,1283.41L213.94,1283.41ZM242.95,1248.21L240.73,1251.71L236.28,1251.71L238.5,1255.21L236.28,1258.71L240.73,1258.71L242.95,1262.21L245.17,1258.71L249.62,1258.71L247.4,1255.21L249.62,1251.71L245.17,1251.71ZM274.18,1216.55L271.96,1220.05L267.51,1220.05L269.73,1223.55L267.51,1227.05L271.96,1227.05L274.18,1230.55L276.4,1227.05L280.85,1227.05L278.63,1223.55L280.85,1220.05L276.4,1220.05ZM305.41,1184.93L303.19,1188.43L298.74,1188.43L300.96,1191.93L298.74,1195.43L303.19,1195.43L305.41,1198.93L307.63,1195.43L312.08,1195.43L309.86,1191.93L312.08,1188.43L307.63,1188.43ZM336.64,1153.34L334.42,1156.84L329.97,1156.84L332.19,1160.34L329.97,1163.84L334.42,1163.84L336.64,1167.34L338.86,1163.84L343.31,1163.84L341.09,1160.34L343.31,1156.84L338.86,1156.84ZM367.87,1121.79L365.65,1125.29L361.2,1125.29L363.42,1128.79L361.2,1132.29L365.65,1132.29L367.87,1135.79L370.09,1132.29L374.54,1132.29L372.32,1128.79L374.54,1125.29L370.09,1125.29ZM399.1,1090.28L396.88,1093.78L392.43,1093.78L394.65,1097.28L392.43,1100.78L396.88,1100.78L399.1,1104.28L401.32,1100.78L405.77,1100.78L403.55,1097.28L405.77,1093.78L401.32,1093.78ZM430.33,1058.81L428.11,1062.31L423.66,1062.31L425.88,1065.81L423.66,1069.31L428.11,1069.31L430.33,1072.81L432.55,1069.31L437,1069.31L434.78,1065.81L437,1062.31L432.55,1062.31ZM461.56,1027.38L459.34,1030.88L454.89,1030.88L457.11,1034.38L454.89,1037.88L459.34,1037.88L461.56,1041.38L463.78,1037.88L468.23,1037.88L466.01,1034.38L468.23,1030.88L463.78,1030.88ZM492.79,995.99L490.57,999.49L486.12,999.49L488.34,1002.99L486.12,1006.49L490.57,1006.49L492.79,1009.99L495.01,1006.49L499.46,1006.49L497.24,1002.99L499.46,999.49L495.01,999.49ZM524.02,964.63L521.8,968.13L517.35,968.13L519.57,971.63L517.35,975.13L521.8,975.13L524.02,978.63L526.24,975.13L530.69,975.13L528.47,971.63L530.69,968.13L526.24,968.13ZM555.25,934.69L553.03,938.19L548.58,938.19L550.8,941.69L548.58,945.19L553.03,945.19L555.25,948.69L557.47,945.19L561.92,945.19L559.7,941.69L561.92,938.19L557.47,938.19ZM586.48,905.42L584.26,908.92L579.81,908.92L582.03,912.42L579.81,915.92L584.26,915.92L586.48,919.42L588.7,915.92L593.15,915.92L590.93,912.42L593.15,908.92L588.7,908.92ZM617.71,878.78L615.49,882.28L611.04,882.28L613.26,885.78L611.04,889.28L615.49,889.28L617.71,892.78L619.93,889.28L624.38,889.28L622.16,885.78L624.38,882.28L619.93,882.28ZM648.94,856.53L646.72,860.03L642.27,860.03L644.49,863.53L642.27,867.03L646.72,867.03L648.94,870.53L651.16,867.03L655.61,867.03L653.39,863.53L655.61,860.03L651.16,860.03ZM680.17,845.63L677.95,849.13L673.5,849.13L675.72,852.63L673.5,856.13L677.95,856.13L680.17,859.63L682.39,856.13L686.84,856.13L684.62,852.63L686.84,849.13L682.39,849.13ZM711.4,853.09L709.18,856.59L704.73,856.59L706.95,860.09L704.73,863.59L709.18,863.59L711.4,867.09L713.62,863.59L718.07,863.59L715.85,860.09L718.07,856.59L713.62,856.59ZM742.63,894.95L740.41,898.45L735.96,898.45L738.18,901.95L735.96,905.45L740.41,905.45L742.63,908.95L744.85,905.45L749.3,905.45L747.08,901.95L749.3,898.45L744.85,898.45ZM773.86,985.76L771.64,989.26L767.19,989.26L769.41,992.76L767.19,996.26L771.64,996.26L773.86,999.76L776.08,996.26L780.53,996.26L778.31,992.76L780.53,989.26L776.08,989.26ZM805.09,1147.06L802.87,1150.56L798.42,1150.56L800.64,1154.06L798.42,1157.56L802.87,1157.56L805.09,1161.06L807.31,1157.56L811.76,1157.56L809.54,1154.06L811.76,1150.56L807.31,1150.56ZM836.32,1381.12L834.1,1384.62L829.65,1384.62L831.87,1388.12L829.65,1391.62L834.1,1391.62L836.32,1395.12L838.54,1391.62L842.99,1391.62L840.77,1388.12L842.99,1384.62L838.54,1384.62ZM86.8,1407.1L84.58,1410.6L80.13,1410.6L82.35,1414.1L80.13,1417.6L84.58,1417.6L86.8,1421.1L89.02,1417.6L93.47,1417.6L91.25,1414.1L93.47,1410.6L89.02,1410.6ZM118.03,1381.62L115.81,1385.12L111.36,1385.12L113.58,1388.62L111.36,1392.12L115.81,1392.12L118.03,1395.62L120.25,1392.12L124.7,1392.12L122.48,1388.62L124.7,1385.12L120.25,1385.12ZM149.26,1356.18L147.04,1359.68L142.59,1359.68L144.81,1363.18L142.59,1366.68L147.04,1366.68L149.26,1370.18L151.48,1366.68L155.93,1366.68L153.71,1363.18L155.93,1359.68L151.48,1359.68ZM180.49,1330.78L178.27,1334.28L173.82,1334.28L176.04,1337.78L173.82,1341.28L178.27,1341.28L180.49,1344.78L182.71,1341.28L187.16,1341.28L184.94,1337.78L187.16,1334.28L182.71,1334.28ZM211.72,1305.43L209.5,1308.93L205.05,1308.93L207.27,1312.43L205.05,1315.93L209.5,1315.93L211.72,1319.43L213.94,1315.93L218.39,1315.93L216.17,1312.43L218.39,1308.93L213.94,1308.93ZM242.95,1280.11L240.73,1283.61L236.28,1283.61L238.5,1287.11L236.28,1290.61L240.73,1290.61L242.95,1294.11L245.17,1290.61L249.62,1290.61L247.4,1287.11L249.62,1283.61L245.17,1283.61ZM274.18,1254.83L271.96,1258.33L267.51,1258.33L269.73,1261.83L267.51,1265.33L271.96,1265.33L274.18,1268.83L276.4,1265.33L280.85,1265.33L278.63,1261.83L280.85,1258.33L276.4,1258.33ZM305.41,1229.59L303.19,1233.09L298.74,1233.09L300.96,1236.59L298.74,1240.09L303.19,1240.09L305.41,1243.59L307.63,1240.09L312.08,1240.09L309.86,1236.59L312.08,1233.09L307.63,1233.09ZM336.64,1204.39L334.42,1207.89L329.97,1207.89L332.19,1211.39L329.97,1214.89L334.42,1214.89L336.64,1218.39L338.86,1214.89L343.31,1214.89L341.09,1211.39L343.31,1207.89L338.86,1207.89ZM367.87,1179.23L365.65,1182.73L361.2,1182.73L363.42,1186.23L361.2,1189.73L365.65,1189.73L367.87,1193.23L370.09,1189.73L374.54,1189.73L372.32,1186.23L374.54,1182.73L370.09,1182.73ZM399.1,1154.11L396.88,1157.61L392.43,1157.61L394.65,1161.11L392.43,1164.61L396.88,1164.61L399.1,1168.11L401.32,1164.61L405.77,1164.61L403.55,1161.11L405.77,1157.61L401.32,1157.61ZM430.33,1129.03L428.11,1132.53L423.66,1132.53L425.88,1136.03L423.66,1139.53L428.11,1139.53L430.33,1143.03L432.55,1139.53L437,1139.53L434.78,1136.03L437,1132.53L432.55,1132.53ZM461.56,1104L459.34,1107.5L454.89,1107.5L457.11,1111L454.89,1114.5L459.34,1114.5L461.56,1118L463.78,1114.5L468.23,1114.5L466.01,1111L468.23,1107.5L463.78,1107.5ZM492.79,1079L490.57,1082.5L486.12,1082.5L488.34,1086L486.12,1089.5L490.57,1089.5L492.79,1093L495.01,1089.5L499.46,1089.5L497.24,1086L499.46,1082.5L495.01,1082.5ZM524.02,1054.04L521.8,1057.54L517.35,1057.54L519.57,1061.04L517.35,1064.54L521.8,1064.54L524.02,1068.04L526.24,1064.54L530.69,1064.54L528.47,1061.04L530.69,1057.54L526.24,1057.54ZM555.25,1030.17L553.03,1033.67L548.58,1033.67L550.8,1037.17L548.58,1040.67L553.03,1040.67L555.25,1044.17L557.47,1040.67L561.92,1040.67L559.7,1037.17L561.92,1033.67L557.47,1033.67ZM586.48,1007.41L584.26,1010.91L579.81,1010.91L582.03,1014.41L579.81,1017.91L584.26,1017.91L586.48,1021.41L588.7,1017.91L593.15,1017.91L590.93,1014.41L593.15,1010.91L588.7,1010.91ZM617.71,986.05L615.49,989.55L611.04,989.55L613.26,993.05L611.04,996.55L615.49,996.55L617.71,1000.05L619.93,996.55L624.38,996.55L622.16,993.05L624.38,989.55L619.93,989.55ZM648.94,968.78L646.72,972.28L642.27,972.28L644.49,975.78L642.27,979.28L646.72,979.28L648.94,982.78L651.16,979.28L655.61,979.28L653.39,975.78L655.61,972.28L651.16,972.28ZM680.17,961.3L677.95,964.8L673.5,964.8L675.72,968.3L673.5,971.8L677.95,971.8L680.17,975.3L682.39,971.8L686.84,971.8L684.62,968.3L686.84,964.8L682.39,964.8ZM711.4,968.93L709.18,972.43L704.73,972.43L706.95,975.93L704.73,979.43L709.18,979.43L711.4,982.93L713.62,979.43L718.07,979.43L715.85,975.93L718.07,972.43L713.62,972.43ZM742.63,1008.22L740.41,1011.72L735.96,1011.72L738.18,1015.22L735.96,1018.72L740.41,1018.72L742.63,1022.22L744.85,1018.72L749.3,1018.72L747.08,1015.22L749.3,1011.72L744.85,1011.72ZM773.86,1093.44L771.64,1096.94L767.19,1096.94L769.41,1100.44L767.19,1103.94L771.64,1103.94L773.86,1107.44L776.08,1103.94L780.53,1103.94L778.31,1100.44L780.53,1096.94L776.08,1096.94ZM805.09,1242.61L802.87,1246.11L798.42,1246.11L800.64,1249.61L798.42,1253.11L802.87,1253.11L805.09,1256.61L807.31,1253.11L811.76,1253.11L809.54,1249.61L811.76,1246.11L807.31,1246.11ZM86.8,1407.1L84.58,1410.6L80.13,1410.6L82.35,1414.1L80.13,1417.6L84.58,1417.6L86.8,1421.1L89.02,1417.6L93.47,1417.6L91.25,1414.1L93.47,1410.6L89.02,1410.6ZM118.03,1387.99L115.81,1391.49L111.36,1391.49L113.58,1394.99L111.36,1398.49L115.81,1398.49L118.03,1401.99L120.25,1398.49L124.7,1398.49L122.48,1394.99L124.7,1391.49L120.25,1391.49ZM149.26,1368.91L147.04,1372.41L142.59,1372.41L144.81,1375.91L142.59,1379.41L147.04,1379.41L149.26,1382.91L151.48,1379.41L155.93,1379.41L153.71,1375.91L155.93,1372.41L151.48,1372.41ZM180.49,1349.88L178.27,1353.38L173.82,1353.38L176.04,1356.88L173.82,1360.38L178.27,1360.38L180.49,1363.88L182.71,1360.38L187.16,1360.38L184.94,1356.88L187.16,1353.38L182.71,1353.38ZM211.72,1330.89L209.5,1334.39L205.05,1334.39L207.27,1337.89L205.05,1341.39L209.5,1341.39L211.72,1344.89L213.94,1341.39L218.39,1341.39L216.17,1337.89L218.39,1334.39L213.94,1334.39ZM242.95,1311.93L240.73,1315.43L236.28,1315.43L238.5,1318.93L236.28,1322.43L240.73,1322.43L242.95,1325.93L245.17,1322.43L249.62,1322.43L247.4,1318.93L249.62,1315.43L245.17,1315.43ZM274.18,1293.02L271.96,1296.52L267.51,1296.52L269.73,1300.02L267.51,1303.52L271.96,1303.52L274.18,1307.02L276.4,1303.52L280.85,1303.52L278.63,1300.02L280.85,1296.52L276.4,1296.52ZM305.41,1274.15L303.19,1277.65L298.74,1277.65L300.96,1281.15L298.74,1284.65L303.19,1284.65L305.41,1288.15L307.63,1284.65L312.08,1284.65L309.86,1281.15L312.08,1277.65L307.63,1277.65ZM336.64,1255.31L334.42,1258.81L329.97,1258.81L332.19,1262.31L329.97,1265.81L334.42,1265.81L336.64,1269.31L338.86,1265.81L343.31,1265.81L341.09,1262.31L343.31,1258.81L338.86,1258.81ZM367.87,1236.52L365.65,1240.02L361.2,1240.02L363.42,1243.52L361.2,1247.02L365.65,1247.02L367.87,1250.52L370.09,1247.02L374.54,1247.02L372.32,1243.52L374.54,1240.02L370.09,1240.02ZM399.1,1217.77L396.88,1221.27L392.43,1221.27L394.65,1224.77L392.43,1228.27L396.88,1228.27L399.1,1231.77L401.32,1228.27L405.77,1228.27L403.55,1224.77L405.77,1221.27L401.32,1221.27ZM430.33,1199.05L428.11,1202.55L423.66,1202.55L425.88,1206.05L423.66,1209.55L428.11,1209.55L430.33,1213.05L432.55,1209.55L437,1209.55L434.78,1206.05L437,1202.55L432.55,1202.55ZM461.56,1180.38L459.34,1183.88L454.89,1183.88L457.11,1187.38L454.89,1190.88L459.34,1190.88L461.56,1194.38L463.78,1190.88L468.23,1190.88L466.01,1187.38L468.23,1183.88L463.78,1183.88ZM492.79,1161.75L490.57,1165.25L486.12,1165.25L488.34,1168.75L486.12,1172.25L490.57,1172.25L492.79,1175.75L495.01,1172.25L499.46,1172.25L497.24,1168.75L499.46,1165.25L495.01,1165.25ZM524.02,1143.15L521.8,1146.65L517.35,1146.65L519.57,1150.15L517.35,1153.65L521.8,1153.65L524.02,1157.15L526.24,1153.65L530.69,1153.65L528.47,1150.15L530.69,1146.65L526.24,1146.65ZM555.25,1125.65L553.03,1129.15L548.58,1129.15L550.8,1132.65L548.58,1136.15L553.03,1136.15L555.25,1139.65L557.47,1136.15L561.92,1136.15L559.7,1132.65L561.92,1129.15L557.47,1129.15ZM586.48,1108.82L584.26,1112.32L579.81,1112.32L582.03,1115.82L579.81,1119.32L584.26,1119.32L586.48,1122.82L588.7,1119.32L593.15,1119.32L590.93,1115.82L593.15,1112.32L588.7,1112.32ZM617.71,1093.16L615.49,1096.66L611.04,1096.66L613.26,1100.16L611.04,1103.66L615.49,1103.66L617.71,1107.16L619.93,1103.66L624.38,1103.66L622.16,1100.16L624.38,1096.66L619.93,1096.66ZM648.94,1081.69L646.72,1085.19L642.27,1085.19L644.49,1088.69L642.27,1092.19L646.72,1092.19L648.94,1095.69L651.16,1092.19L655.61,1092.19L653.39,1088.69L655.61,1085.19L651.16,1085.19ZM680.17,1077.15L677.95,1080.65L673.5,1080.65L675.72,1084.15L673.5,1087.65L677.95,1087.65L680.17,1091.15L682.39,1087.65L686.84,1087.65L684.62,1084.15L686.84,1080.65L682.39,1080.65ZM711.4,1086.24L709.18,1089.74L704.73,1089.74L706.95,1093.24L704.73,1096.74L709.18,1096.74L711.4,1100.24L713.62,1096.74L718.07,1096.74L715.85,1093.24L718.07,1089.74L713.62,1089.74ZM742.63,1121.88L740.41,1125.38L735.96,1125.38L738.18,1128.88L735.96,1132.38L740.41,1132.38L742.63,1135.88L744.85,1132.38L749.3,1132.38L747.08,1128.88L749.3,1125.38L744.85,1125.38ZM773.86,1201.52L771.64,1205.02L767.19,1205.02L769.41,1208.52L767.19,1212.02L771.64,1212.02L773.86,1215.52L776.08,1212.02L780.53,1212.02L778.31,1208.52L780.53,1205.02L776.08,1205.02ZM805.09,1340.92L802.87,1344.42L798.42,1344.42L800.64,1347.92L798.42,1351.42L802.87,1351.42L805.09,1354.92L807.31,1351.42L811.76,1351.42L809.54,1347.92L811.76,1344.42L807.31,1344.42ZM86.8,1407.1L84.58,1410.6L80.13,1410.6L82.35,1414.1L80.13,1417.6L84.58,1417.6L86.8,1421.1L89.02,1417.6L93.47,1417.6L91.25,1414.1L93.47,1410.6L89.02,1410.6ZM118.03,1394.37L115.81,1397.87L111.36,1397.87L113.58,1401.37L111.36,1404.87L115.81,1404.87L118.03,1408.37L120.25,1404.87L124.7,1404.87L122.48,1401.37L124.7,1397.87L120.25,1397.87ZM149.26,1381.69L147.04,1385.19L142.59,1385.19L144.81,1388.69L142.59,1392.19L147.04,1392.19L149.26,1395.69L151.48,1392.19L155.93,1392.19L153.71,1388.69L155.93,1385.19L151.48,1385.19ZM180.49,1369.05L178.27,1372.55L173.82,1372.55L176.04,1376.05L173.82,1379.55L178.27,1379.55L180.49,1383.05L182.71,1379.55L187.16,1379.55L184.94,1376.05L187.16,1372.55L182.71,1372.55ZM211.72,1356.46L209.5,1359.96L205.05,1359.96L207.27,1363.46L205.05,1366.96L209.5,1366.96L211.72,1370.46L213.94,1366.96L218.39,1366.96L216.17,1363.46L218.39,1359.96L213.94,1359.96ZM242.95,1343.92L240.73,1347.42L236.28,1347.42L238.5,1350.92L236.28,1354.42L240.73,1354.42L242.95,1357.92L245.17,1354.42L249.62,1354.42L247.4,1350.92L249.62,1347.42L245.17,1347.42ZM274.18,1331.41L271.96,1334.91L267.51,1334.91L269.73,1338.41L267.51,1341.91L271.96,1341.91L274.18,1345.41L276.4,1341.91L280.85,1341.91L278.63,1338.41L280.85,1334.91L276.4,1334.91ZM305.41,1318.96L303.19,1322.46L298.74,1322.46L300.96,1325.96L298.74,1329.46L303.19,1329.46L305.41,1332.96L307.63,1329.46L312.08,1329.46L309.86,1325.96L312.08,1322.46L307.63,1322.46ZM336.64,1306.54L334.42,1310.04L329.97,1310.04L332.19,1313.54L329.97,1317.04L334.42,1317.04L336.64,1320.54L338.86,1317.04L343.31,1317.04L341.09,1313.54L343.31,1310.04L338.86,1310.04ZM367.87,1294.18L365.65,1297.68L361.2,1297.68L363.42,1301.18L361.2,1304.68L365.65,1304.68L367.87,1308.18L370.09,1304.68L374.54,1304.68L372.32,1301.18L374.54,1297.68L370.09,1297.68ZM399.1,1281.86L396.88,1285.36L392.43,1285.36L394.65,1288.86L392.43,1292.36L396.88,1292.36L399.1,1295.86L401.32,1292.36L405.77,1292.36L403.55,1288.86L405.77,1285.36L401.32,1285.36ZM430.33,1269.58L428.11,1273.08L423.66,1273.08L425.88,1276.58L423.66,1280.08L428.11,1280.08L430.33,1283.58L432.55,1280.08L437,1280.08L434.78,1276.58L437,1273.08L432.55,1273.08ZM461.56,1257.35L459.34,1260.85L454.89,1260.85L457.11,1264.35L454.89,1267.85L459.34,1267.85L461.56,1271.35L463.78,1267.85L468.23,1267.85L466.01,1264.35L468.23,1260.85L463.78,1260.85ZM492.79,1245.16L490.57,1248.66L486.12,1248.66L488.34,1252.16L486.12,1255.66L490.57,1255.66L492.79,1259.16L495.01,1255.66L499.46,1255.66L497.24,1252.16L499.46,1248.66L495.01,1248.66ZM524.02,1233.02L521.8,1236.52L517.35,1236.52L519.57,1240.02L517.35,1243.52L521.8,1243.52L524.02,1247.02L526.24,1243.52L530.69,1243.52L528.47,1240.02L530.69,1236.52L526.24,1236.52ZM555.25,1221.13L553.03,1224.63L548.58,1224.63L550.8,1228.13L548.58,1231.63L553.03,1231.63L555.25,1235.13L557.47,1231.63L561.92,1231.63L559.7,1228.13L561.92,1224.63L557.47,1224.63ZM586.48,1209.77L584.26,1213.27L579.81,1213.27L582.03,1216.77L579.81,1220.27L584.26,1220.27L586.48,1223.77L588.7,1220.27L593.15,1220.27L590.93,1216.77L593.15,1213.27L588.7,1213.27ZM617.71,1199.96L615.49,1203.46L611.04,1203.46L613.26,1206.96L611.04,1210.46L615.49,1210.46L617.71,1213.96L619.93,1210.46L624.38,1210.46L622.16,1206.96L624.38,1203.46L619.93,1203.46ZM648.94,1194.1L646.72,1197.6L642.27,1197.6L644.49,1201.1L642.27,1204.6L646.72,1204.6L648.94,1208.1L651.16,1204.6L655.61,1204.6L653.39,1201.1L655.61,1197.6L651.16,1197.6ZM680.17,1193.52L677.95,1197.02L673.5,1197.02L675.72,1200.52L673.5,1204.02L677.95,1204.02L680.17,1207.52L682.39,1204.02L686.84,1204.02L684.62,1200.52L686.84,1197.02L682.39,1197.02ZM711.4,1205.22L709.18,1208.72L704.73,1208.72L706.95,1212.22L704.73,1215.72L709.18,1215.72L711.4,1219.22L713.62,1215.72L718.07,1215.72L715.85,1212.22L718.07,1208.72L713.62,1208.72ZM742.63,1239.62L740.41,1243.12L735.96,1243.12L738.18,1246.62L735.96,1250.12L740.41,1250.12L742.63,1253.62L744.85,1250.12L749.3,1250.12L747.08,1246.62L749.3,1243.12L744.85,1243.12ZM773.86,1311.84L771.64,1315.34L767.19,1315.34L769.41,1318.84L767.19,1322.34L771.64,1322.34L773.86,1325.84L776.08,1322.34L780.53,1322.34L778.31,1318.84L780.53,1315.34L776.08,1315.34ZM86.8,1407.1L84.58,1410.6L80.13,1410.6L82.35,1414.1L80.13,1417.6L84.58,1417.6L86.8,1421.1L89.02,1417.6L93.47,1417.6L91.25,1414.1L93.47,1410.6L89.02,1410.6ZM118.03,1400.76L115.81,1404.26L111.36,1404.26L113.58,1407.76L111.36,1411.26L115.81,1411.26L118.03,1414.76L120.25,1411.26L124.7,1411.26L122.48,1407.76L124.7,1404.26L120.25,1404.26ZM149.26,1394.46L147.04,1397.96L142.59,1397.96L144.81,1401.46L142.59,1404.96L147.04,1404.96L149.26,1408.46L151.48,1404.96L155.93,1404.96L153.71,1401.46L155.93,1397.96L151.48,1397.96ZM180.49,1388.21L178.27,1391.71L173.82,1391.71L176.04,1395.21L173.82,1398.71L178.27,1398.71L180.49,1402.21L182.71,1398.71L187.16,1398.71L184.94,1395.21L187.16,1391.71L182.71,1391.71ZM211.72,1382L209.5,1385.5L205.05,1385.5L207.27,1389L205.05,1392.5L209.5,1392.5L211.72,1396L213.94,1392.5L218.39,1392.5L216.17,1389L218.39,1385.5L213.94,1385.5ZM242.95,1375.84L240.73,1379.34L236.28,1379.34L238.5,1382.84L236.28,1386.34L240.73,1386.34L242.95,1389.84L245.17,1386.34L249.62,1386.34L247.4,1382.84L249.62,1379.34L245.17,1379.34ZM274.18,1369.72L271.96,1373.22L267.51,1373.22L269.73,1376.72L267.51,1380.22L271.96,1380.22L274.18,1383.72L276.4,1380.22L280.85,1380.22L278.63,1376.72L280.85,1373.22L276.4,1373.22ZM305.41,1363.64L303.19,1367.14L298.74,1367.14L300.96,1370.64L298.74,1374.14L303.19,1374.14L305.41,1377.64L307.63,1374.14L312.08,1374.14L309.86,1370.64L312.08,1367.14L307.63,1367.14ZM336.64,1357.62L334.42,1361.12L329.97,1361.12L332.19,1364.62L329.97,1368.12L334.42,1368.12L336.64,1371.62L338.86,1368.12L343.31,1368.12L341.09,1364.62L343.31,1361.12L338.86,1361.12ZM367.87,1351.63L365.65,1355.13L361.2,1355.13L363.42,1358.63L361.2,1362.13L365.65,1362.13L367.87,1365.63L370.09,1362.13L374.54,1362.13L372.32,1358.63L374.54,1355.13L370.09,1355.13ZM399.1,1345.69L396.88,1349.19L392.43,1349.19L394.65,1352.69L392.43,1356.19L396.88,1356.19L399.1,1359.69L401.32,1356.19L405.77,1356.19L403.55,1352.69L405.77,1349.19L401.32,1349.19ZM430.33,1339.8L428.11,1343.3L423.66,1343.3L425.88,1346.8L423.66,1350.3L428.11,1350.3L430.33,1353.8L432.55,1350.3L437,1350.3L434.78,1346.8L437,1343.3L432.55,1343.3ZM461.56,1333.95L459.34,1337.45L454.89,1337.45L457.11,1340.95L454.89,1344.45L459.34,1344.45L461.56,1347.95L463.78,1344.45L468.23,1344.45L466.01,1340.95L468.23,1337.45L463.78,1337.45ZM492.79,1328.15L490.57,1331.65L486.12,1331.65L488.34,1335.15L486.12,1338.65L490.57,1338.65L492.79,1342.15L495.01,1338.65L499.46,1338.65L497.24,1335.15L499.46,1331.65L495.01,1331.65ZM524.02,1322.39L521.8,1325.89L517.35,1325.89L519.57,1329.39L517.35,1332.89L521.8,1332.89L524.02,1336.39L526.24,1332.89L530.69,1332.89L528.47,1329.39L530.69,1325.89L526.24,1325.89ZM555.25,1316.75L553.03,1320.25L548.58,1320.25L550.8,1323.75L548.58,1327.25L553.03,1327.25L555.25,1330.75L557.47,1327.25L561.92,1327.25L559.7,1323.75L561.92,1320.25L557.47,1320.25ZM586.48,1311.18L584.26,1314.68L579.81,1314.68L582.03,1318.18L579.81,1321.68L584.26,1321.68L586.48,1325.18L588.7,1321.68L593.15,1321.68L590.93,1318.18L593.15,1314.68L588.7,1314.68ZM617.71,1307.85L615.49,1311.35L611.04,1311.35L613.26,1314.85L611.04,1318.35L615.49,1318.35L617.71,1321.85L619.93,1318.35L624.38,1318.35L622.16,1314.85L624.38,1311.35L619.93,1311.35ZM648.94,1307.18L646.72,1310.68L642.27,1310.68L644.49,1314.18L642.27,1317.68L646.72,1317.68L648.94,1321.18L651.16,1317.68L655.61,1317.68L653.39,1314.18L655.61,1310.68L651.16,1310.68ZM680.17,1311.3L677.95,1314.8L673.5,1314.8L675.72,1318.3L673.5,1321.8L677.95,1321.8L680.17,1325.3L682.39,1321.8L686.84,1321.8L684.62,1318.3L686.84,1314.8L682.39,1314.8ZM711.4,1325.87L709.18,1329.37L704.73,1329.37L706.95,1332.87L704.73,1336.37L709.18,1336.37L711.4,1339.87L713.62,1336.37L718.07,1336.37L715.85,1332.87L718.07,1329.37L713.62,1329.37ZM742.63,1359.69L740.41,1363.19L735.96,1363.19L738.18,1366.69L735.96,1370.19L740.41,1370.19L742.63,1373.69L744.85,1370.19L749.3,1370.19L747.08,1366.69L749.3,1363.19L744.85,1363.19Z" fill="#000" stroke="#000" stroke-width="0.6"/>
<text transform="translate(76.8,1423.9) scale(1.05,1)" font-size="27" font-weight="bold" text-anchor="end" >0</text>
<text transform="translate(76.8,1321.1) scale(1.05,1)" font-size="27" font-weight="bold" text-anchor="end" >10</text>
<text transform="translate(76.8,1218.3) scale(1.05,1)" font-size="27" font-weight="bold" text-anchor="end" >20</text>
<text transform="translate(76.8,1115.5) scale(1.05,1)" font-size="27" font-weight="bold" text-anchor="end" >30</text>
<text transform="translate(76.8,1012.7) scale(1.05,1)" font-size="27" font-weight="bold" text-anchor="end" >40</text>
<text transform="translate(76.8,909.9) scale(1.05,1)" font-size="27" font-weight="bold" text-anchor="end" >50</text>
<text transform="translate(76.8,807.1) scale(1.05,1)" font-size="27" font-weight="bold" text-anchor="end" >60</text>
<text transform="translate(87.3,1447.8) scale(1.05,1)" font-size="27" font-weight="bold" text-anchor="middle" >0</text>
<text transform="translate(260.8,1447.8) scale(1.05,1)" font-size="27" font-weight="bold" text-anchor="middle" >5</text>
<text transform="translate(434.3,1447.8) scale(1.05,1)" font-size="27" font-weight="bold" text-anchor="middle" >10</text>
<text transform="translate(607.8,1447.8) scale(1.05,1)" font-size="27" font-weight="bold" text-anchor="middle" >15</text>
<text transform="translate(781.3,1447.8) scale(1.05,1)" font-size="27" font-weight="bold" text-anchor="middle" >20</text>
<text transform="translate(954.8,1447.8) scale(1.05,1)" font-size="27" font-weight="bold" text-anchor="middle" >25</text>
<text transform="translate(520,1481.8) scale(1.05,1)" font-size="30" font-weight="bold" text-anchor="middle" >PV Module Voltage (V)</text>
<text transform="translate(36.2,1105.6) rotate(-90) scale(1,1.1)" font-size="29.3" font-weight="bold" text-anchor="middle" >PV Module Current (W)</text>
<text transform="translate(519.9,1534.8)" font-size="42" font-weight="bold" text-anchor="middle" >(b)</text>
<rect x="127.4" y="827.6" width="262" height="190.7" fill="#fff" stroke="none"/>
<clipPath id="cjb"><rect x="127.4" y="827.6" width="262" height="190.7"/></clipPath>
<g clip-path="url(#cjb)" fill="none" stroke-linejoin="round">
<path d="M-462.3,1423.4L-423.91,1390.32L-385.53,1357.28L-347.14,1324.28L-308.76,1291.32L-270.38,1258.4L-231.99,1225.52L-193.6,1192.65L-155.22,1159.77L-116.84,1126.94L-78.45,1094.14L-40.06,1061.38L-1.68,1028.67L36.7,995.99L75.09,963.36L113.48,932.61L151.86,903.04L190.25,876.44L228.63,854.36L267.02,843.78L305.4,851.76L344.59,895.03L384.47,988.62L422.85,1155.51L458.94,1405.66" stroke="#00ff00" stroke-width="2"/>
<path d="M-462.3,1423.4L-423.91,1397L-385.53,1370.64L-347.14,1344.33L-308.76,1318.05L-270.38,1291.82L-231.99,1265.63L-193.6,1239.44L-155.22,1213.21L-116.84,1187.02L-78.45,1160.88L-40.06,1134.77L-1.68,1108.71L36.7,1082.69L75.09,1056.72L113.48,1032.08L151.86,1008.83L190.25,987.14L228.63,969.69L267.02,962.28L305.4,970.32L344.59,1011.08L384.47,1099.32L422.85,1254.1" stroke="#00ff00" stroke-width="2"/>
<path d="M-462.3,1423.4L-423.91,1390.03L-385.53,1356.71L-347.14,1323.42L-308.76,1290.18L-270.38,1256.97L-231.99,1223.81L-193.6,1190.75L-155.22,1157.87L-116.84,1125.04L-78.45,1092.24L-40.06,1059.48L-1.68,1026.77L36.7,994.09L75.09,961.46L113.48,930.57L151.86,900.7L190.25,873.73L228.63,851.28L267.02,840.45L305.4,848.36L343.78,891.72L382.17,985.63L420.55,1152.85L458.94,1396.16" stroke="#ff0000" stroke-width="1.6"/>
<path d="M-462.3,1423.4L-423.91,1396.81L-385.53,1370.25L-347.14,1343.74L-308.76,1317.27L-270.38,1290.84L-231.99,1264.46L-193.6,1238.14L-155.22,1211.91L-116.84,1185.72L-78.45,1159.58L-40.06,1133.47L-1.68,1107.41L36.7,1081.39L75.09,1055.41L113.48,1030.71L151.86,1007.32L190.25,985.46L228.63,967.84L267.02,960.32L305.4,968.32L343.78,1009.12L382.17,1097.51L420.55,1252.44" stroke="#ff0000" stroke-width="1.6"/>
<path d="M-462.3,1423.4L-423.91,1390.29L-385.53,1357.22L-347.14,1324.19L-308.76,1291.2L-270.38,1258.25L-231.99,1225.34L-193.6,1192.45L-155.22,1159.57L-116.84,1126.74L-78.45,1093.94L-40.06,1061.18L-1.68,1028.47L36.7,995.79L75.09,963.16L113.48,932.24L151.86,902.32L190.25,875.26L228.63,852.75L267.02,841.86L305.4,849.76L343.78,893.14L382.17,987.11L420.55,1154.4L458.94,1397.74" stroke="#00ffff" stroke-width="2"/>
<path d="M-462.3,1423.4L-423.91,1397.03L-385.53,1370.7L-347.14,1344.42L-308.76,1318.17L-270.38,1291.97L-231.99,1265.81L-193.6,1239.64L-155.22,1213.41L-116.84,1187.22L-78.45,1161.08L-40.06,1134.97L-1.68,1108.91L36.7,1082.89L75.09,1056.92L113.48,1032.32L151.86,1009.15L190.25,987.56L228.63,970.2L267.02,962.86L305.4,970.92L344.35,1011.65L383.77,1099.81L422.15,1254.5" stroke="#00ffff" stroke-width="2"/>
<path d="M-462.3,1423.4L-423.91,1390.39L-385.53,1357.43L-347.14,1324.5L-308.76,1291.62L-270.38,1258.77L-231.99,1225.97L-193.6,1193.15L-155.22,1160.27L-116.84,1127.44L-78.45,1094.64L-40.06,1061.88L-1.68,1029.17L36.7,996.49L75.09,963.85L113.48,932.69L151.86,902.22L190.25,874.5L228.63,851.34L267.02,839.99L305.4,847.76L343.78,891.32L382.17,985.85L420.55,1153.74L458.94,1397.36" stroke="#ff00ff" stroke-width="1.6"/>
<path d="M-462.3,1423.4L-423.91,1396.88L-385.53,1370.4L-347.14,1343.97L-308.76,1317.57L-270.38,1291.22L-231.99,1264.91L-193.6,1238.64L-155.22,1212.41L-116.84,1186.22L-78.45,1160.08L-40.06,1133.97L-1.68,1107.91L36.7,1081.89L75.09,1055.91L113.48,1031.17L151.86,1007.68L190.25,985.69L228.63,967.95L267.02,960.34L305.4,968.32L343.78,1009.16L382.17,1097.65L420.55,1252.69" stroke="#ff00ff" stroke-width="1.6"/>
<path d="M-462.3,1423.4L-423.91,1390L-385.53,1356.65L-347.14,1323.33L-308.76,1290.06L-270.38,1256.82L-231.99,1223.63L-193.6,1190.55L-155.22,1157.67L-116.84,1124.84L-78.45,1092.04L-40.06,1059.28L-1.68,1026.57L36.7,993.89L75.09,961.26L113.48,931.16L151.86,902.97L190.25,878.08L228.63,857.65L267.02,848.25L305.4,856.56L343.78,899.37L382.17,991.53L420.55,1156.88L458.94,1399.32" stroke="#0000ff" stroke-width="2.6"/>
<path d="M-462.3,1423.4L-423.91,1396.96L-385.53,1370.55L-347.14,1344.19L-308.76,1317.87L-270.38,1291.59L-231.99,1265.36L-193.6,1239.14L-155.22,1212.91L-116.84,1186.72L-78.45,1160.58L-40.06,1134.47L-1.68,1108.41L36.7,1082.39L75.09,1056.41L113.48,1031.71L151.86,1008.32L190.25,986.46L228.63,968.84L267.02,961.32L305.4,969.32L343.78,1010.12L382.17,1098.51L420.55,1253.44" stroke="#0000ff" stroke-width="2.6"/>
<path d="M-462.3,1423.4L-423.91,1390.24L-385.53,1357.13L-347.14,1324.05L-308.76,1291.02L-270.38,1258.02L-231.99,1225.07L-193.6,1192.15L-155.22,1159.27L-116.84,1126.44L-78.45,1093.64L-40.06,1060.88L-1.68,1028.17L36.7,995.49L75.09,962.86L113.48,932.35L151.86,903.28L190.25,877.29L228.63,855.81L267.02,845.66L305.4,853.76L343.78,896.86L382.17,989.93L420.55,1156.27L458.94,1399.16" stroke="#ffff00" stroke-width="3.2"/>
<path d="M-462.3,1423.4L-423.91,1397.03L-385.53,1370.7L-347.14,1344.42L-308.76,1318.17L-270.38,1291.97L-231.99,1265.81L-193.6,1239.64L-155.22,1213.41L-116.84,1187.22L-78.45,1161.08L-40.06,1134.97L-1.68,1108.91L36.7,1082.89L75.09,1056.92L113.48,1032.52L151.86,1009.79L190.25,988.75L228.63,971.92L267.02,964.96L305.4,973.12L343.78,1013.71L382.17,1101.41L420.55,1255.61" stroke="#ffff00" stroke-width="3.2"/>
<path d="M-462.3,1423.4L-423.91,1390.05L-385.53,1356.74L-347.14,1323.47L-308.76,1290.24L-270.38,1257.05L-231.99,1223.9L-193.6,1190.85L-155.22,1157.97L-116.84,1125.14L-78.45,1092.34L-40.06,1059.58L-1.68,1026.87L36.7,994.19L75.09,961.56L113.48,930.87L151.86,901.42L190.25,874.96L228.63,853.02L267.02,842.55L305.4,850.56L343.78,893.79L382.17,987.25L420.55,1154.01L458.94,1397.1" stroke="#000000" stroke-width="3.4"/>
<path d="M-462.3,1423.4L-423.91,1396.93L-385.53,1370.49L-347.14,1344.1L-308.76,1317.75L-270.38,1291.44L-231.99,1265.18L-193.6,1238.94L-155.22,1212.71L-116.84,1186.52L-78.45,1160.38L-40.06,1134.27L-1.68,1108.21L36.7,1082.19L75.09,1056.22L113.48,1031.59L151.86,1008.36L190.25,986.7L228.63,969.27L267.02,961.88L305.4,969.92L343.78,1010.67L382.17,1098.89L420.55,1253.65" stroke="#000000" stroke-width="3.4"/>
<path d="M-462.3,1423.4L-423.91,1390.24L-385.53,1357.13L-347.14,1324.05L-308.76,1291.02L-270.38,1258.02L-231.99,1225.07L-193.6,1192.15L-155.22,1159.27L-116.84,1126.44L-78.45,1093.64L-40.06,1060.88L-1.68,1028.17L36.7,995.49L75.09,962.85L113.48,931.69L151.86,901.22L190.25,873.5L228.63,850.34L267.02,838.99L305.4,846.76L343.78,890.32L382.17,984.85L420.55,1152.74L458.94,1396.36" stroke="#808080" stroke-width="3.2"/>
<path d="M-462.3,1423.4L-423.91,1396.88L-385.53,1370.4L-347.14,1343.97L-308.76,1317.57L-270.38,1291.22L-231.99,1264.91L-193.6,1238.64L-155.22,1212.41L-116.84,1186.22L-78.45,1160.08L-40.06,1133.97L-1.68,1107.91L36.7,1081.89L75.09,1055.91L113.48,1031.07L151.86,1007.38L190.25,985.15L228.63,967.17L267.02,959.39L305.4,967.32L343.78,1008.22L382.17,1096.92L420.55,1252.19" stroke="#808080" stroke-width="3.2"/>
</g>
<path d="M151.86,894.22L149.64,897.72L145.19,897.72L147.41,901.22L145.19,904.72L149.64,904.72L151.86,908.22L154.08,904.72L158.53,904.72L156.31,901.22L158.53,897.72L154.08,897.72ZM190.25,866.5L188.02,870L183.58,870L185.8,873.5L183.58,877L188.02,877L190.25,880.5L192.47,877L196.91,877L194.69,873.5L196.91,870L192.47,870ZM228.63,843.34L226.41,846.84L221.96,846.84L224.18,850.34L221.96,853.84L226.41,853.84L228.63,857.34L230.85,853.84L235.3,853.84L233.08,850.34L235.3,846.84L230.85,846.84ZM267.02,831.99L264.79,835.49L260.35,835.49L262.57,838.99L260.35,842.49L264.79,842.49L267.02,845.99L269.24,842.49L273.68,842.49L271.46,838.99L273.68,835.49L269.24,835.49ZM305.4,839.76L303.18,843.26L298.73,843.26L300.95,846.76L298.73,850.26L303.18,850.26L305.4,853.76L307.62,850.26L312.07,850.26L309.85,846.76L312.07,843.26L307.62,843.26ZM343.78,883.32L341.56,886.82L337.12,886.82L339.34,890.32L337.12,893.82L341.56,893.82L343.78,897.32L346.01,893.82L350.45,893.82L348.23,890.32L350.45,886.82L346.01,886.82ZM382.17,977.85L379.95,981.35L375.5,981.35L377.72,984.85L375.5,988.35L379.95,988.35L382.17,991.85L384.39,988.35L388.84,988.35L386.62,984.85L388.84,981.35L384.39,981.35ZM151.86,1000.38L149.64,1003.88L145.19,1003.88L147.41,1007.38L145.19,1010.88L149.64,1010.88L151.86,1014.38L154.08,1010.88L158.53,1010.88L156.31,1007.38L158.53,1003.88L154.08,1003.88ZM190.25,978.15L188.02,981.65L183.58,981.65L185.8,985.15L183.58,988.65L188.02,988.65L190.25,992.15L192.47,988.65L196.91,988.65L194.69,985.15L196.91,981.65L192.47,981.65ZM228.63,960.17L226.41,963.67L221.96,963.67L224.18,967.17L221.96,970.67L226.41,970.67L228.63,974.17L230.85,970.67L235.3,970.67L233.08,967.17L235.3,963.67L230.85,963.67ZM267.02,952.39L264.79,955.89L260.35,955.89L262.57,959.39L260.35,962.89L264.79,962.89L267.02,966.39L269.24,962.89L273.68,962.89L271.46,959.39L273.68,955.89L269.24,955.89ZM305.4,960.32L303.18,963.82L298.73,963.82L300.95,967.32L298.73,970.82L303.18,970.82L305.4,974.32L307.62,970.82L312.07,970.82L309.85,967.32L312.07,963.82L307.62,963.82ZM343.78,1001.22L341.56,1004.72L337.12,1004.72L339.34,1008.22L337.12,1011.72L341.56,1011.72L343.78,1015.22L346.01,1011.72L350.45,1011.72L348.23,1008.22L350.45,1004.72L346.01,1004.72Z" fill="#000" stroke="#000" stroke-width="0.6"/>
<path d="M134.8,1018.3v-3M134.8,827.6v3M177.45,1018.3v-3M177.45,827.6v3M220.1,1018.3v-3M220.1,827.6v3M262.75,1018.3v-3M262.75,827.6v3M305.4,1018.3v-3M305.4,827.6v3M348.05,1018.3v-3M348.05,827.6v3M127.4,995.4h3M389.4,995.4h-3M127.4,941.9h3M389.4,941.9h-3M127.4,888.4h3M389.4,888.4h-3M127.4,834.9h3M389.4,834.9h-3" stroke="#262626" stroke-width="1.1" fill="none"/>
<rect x="127.4" y="827.6" width="262" height="190.7" fill="none" stroke="#1a1a1a" stroke-width="1.4"/>
<text transform="translate(123.5,1000.9)" font-size="15.5" font-weight="bold" text-anchor="end" >40</text>
<text transform="translate(123.5,947.4)" font-size="15.5" font-weight="bold" text-anchor="end" >45</text>
<text transform="translate(123.5,893.9)" font-size="15.5" font-weight="bold" text-anchor="end" >50</text>
<text transform="translate(123.5,840.4)" font-size="15.5" font-weight="bold" text-anchor="end" >55</text>
<text transform="translate(134.8,1036.4)" font-size="15.5" font-weight="bold" text-anchor="middle" >14</text>
<text transform="translate(177.45,1036.4)" font-size="15.5" font-weight="bold" text-anchor="middle" >15</text>
<text transform="translate(220.1,1036.4)" font-size="15.5" font-weight="bold" text-anchor="middle" >16</text>
<text transform="translate(262.75,1036.4)" font-size="15.5" font-weight="bold" text-anchor="middle" >17</text>
<text transform="translate(305.4,1036.4)" font-size="15.5" font-weight="bold" text-anchor="middle" >18</text>
<text transform="translate(348.05,1036.4)" font-size="15.5" font-weight="bold" text-anchor="middle" >19</text>
<path d="M643,866L400.2,907.8" stroke="#000" stroke-width="1.3" fill="none"/>
<path d="M386.1,910L404.2,899.8L400.2,907.8L407.1,913.6Z" fill="#000" stroke="#000" stroke-width="0.5" stroke-linejoin="miter"/></g></svg>
</body></html>
